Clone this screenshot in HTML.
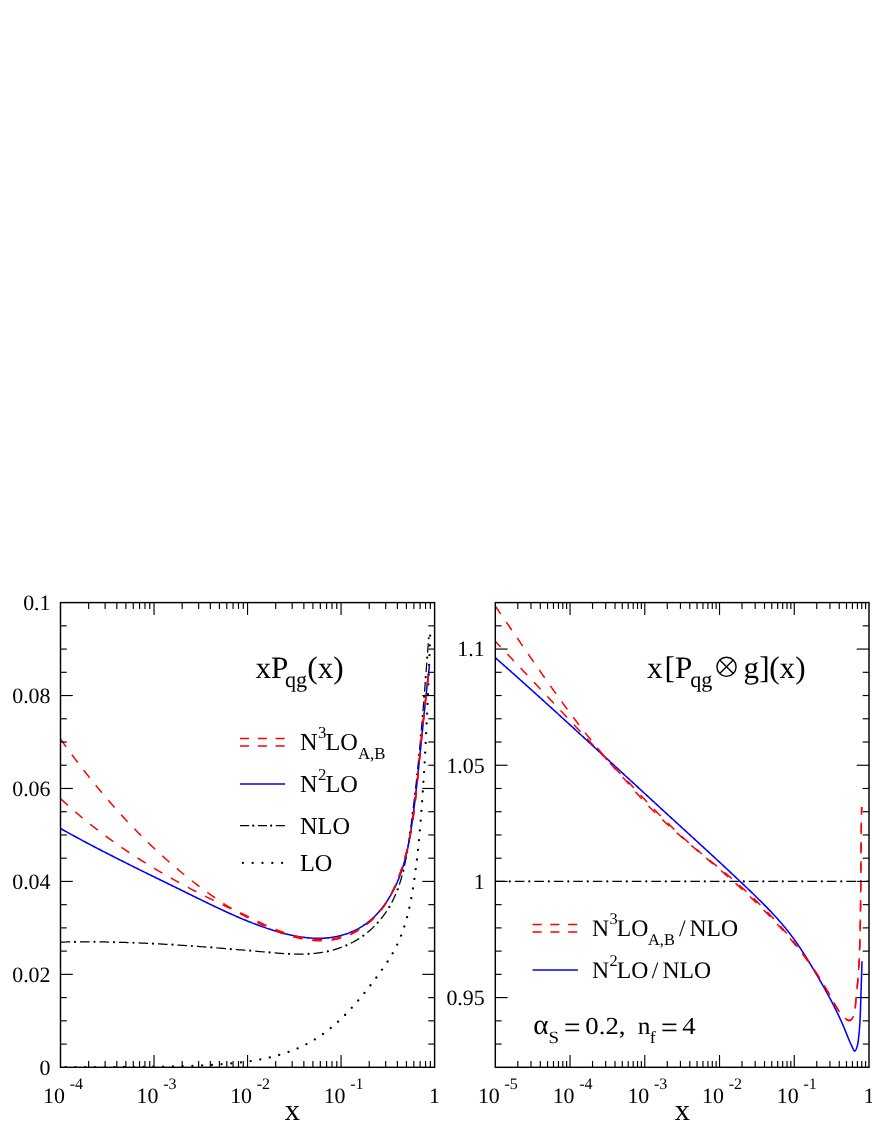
<!DOCTYPE html>
<html><head><meta charset="utf-8"><title>Splitting functions</title>
<style>html,body{margin:0;padding:0;background:#fff;}svg{display:block;}svg{will-change:transform;transform:translateZ(0);}text{font-family:"Liberation Serif",serif;fill:#000;-webkit-font-smoothing:antialiased;text-rendering:geometricPrecision;}</style></head><body>
<svg width="872" height="1128" viewBox="0 0 872 1128">
<rect width="872" height="1128" fill="#fff"/>
<clipPath id="cl"><rect x="60.5" y="602.6" width="374.1" height="464.7"/></clipPath>
<clipPath id="cr"><rect x="495.3" y="602.6" width="373.7" height="464.7"/></clipPath>
<g clip-path="url(#cl)">
<path d="M60.5 1067.24 L61.12 1067.24 L61.73 1067.24 L62.35 1067.24 L62.97 1067.24 L63.59 1067.24 L64.2 1067.24 L64.82 1067.23 L65.44 1067.23 L66.06 1067.23 L66.67 1067.23 L67.29 1067.23 L67.91 1067.23 L68.53 1067.23 L69.14 1067.23 L69.76 1067.23 L70.38 1067.22 L71 1067.22 L71.61 1067.22 L72.23 1067.22 L72.85 1067.22 L73.47 1067.22 L74.08 1067.22 L74.7 1067.22 L75.32 1067.21 L75.93 1067.21 L76.55 1067.21 L77.17 1067.21 L77.79 1067.21 L78.4 1067.21 L79.02 1067.21 L79.64 1067.21 L80.26 1067.2 L80.87 1067.2 L81.49 1067.2 L82.11 1067.2 L82.73 1067.2 L83.34 1067.2 L83.96 1067.19 L84.58 1067.19 L85.2 1067.19 L85.81 1067.19 L86.43 1067.19 L87.05 1067.19 L87.67 1067.18 L88.28 1067.18 L88.9 1067.18 L89.52 1067.18 L90.14 1067.18 L90.75 1067.18 L91.37 1067.17 L91.99 1067.17 L92.6 1067.17 L93.22 1067.17 L93.84 1067.17 L94.46 1067.16 L95.07 1067.16 L95.69 1067.16 L96.31 1067.16 L96.93 1067.16 L97.54 1067.15 L98.16 1067.15 L98.78 1067.15 L99.4 1067.15 L100.01 1067.14 L100.63 1067.14 L101.25 1067.14 L101.87 1067.14 L102.48 1067.13 L103.1 1067.13 L103.72 1067.13 L104.34 1067.13 L104.95 1067.12 L105.57 1067.12 L106.19 1067.12 L106.8 1067.12 L107.42 1067.11 L108.04 1067.11 L108.66 1067.11 L109.27 1067.1 L109.89 1067.1 L110.51 1067.1 L111.13 1067.09 L111.74 1067.09 L112.36 1067.09 L112.98 1067.08 L113.6 1067.08 L114.21 1067.08 L114.83 1067.07 L115.45 1067.07 L116.07 1067.07 L116.68 1067.06 L117.3 1067.06 L117.92 1067.06 L118.54 1067.05 L119.15 1067.05 L119.77 1067.05 L120.39 1067.04 L121 1067.04 L121.62 1067.03 L122.24 1067.03 L122.86 1067.03 L123.47 1067.02 L124.09 1067.02 L124.71 1067.01 L125.33 1067.01 L125.94 1067 L126.56 1067 L127.18 1066.99 L127.8 1066.99 L128.41 1066.99 L129.03 1066.98 L129.65 1066.98 L130.27 1066.97 L130.88 1066.97 L131.5 1066.96 L132.12 1066.96 L132.74 1066.95 L133.35 1066.94 L133.97 1066.94 L134.59 1066.93 L135.2 1066.93 L135.82 1066.92 L136.44 1066.92 L137.06 1066.91 L137.67 1066.9 L138.29 1066.9 L138.91 1066.89 L139.53 1066.89 L140.14 1066.88 L140.76 1066.87 L141.38 1066.87 L142 1066.86 L142.61 1066.85 L143.23 1066.85 L143.85 1066.84 L144.47 1066.83 L145.08 1066.83 L145.7 1066.82 L146.32 1066.81 L146.94 1066.8 L147.55 1066.8 L148.17 1066.79 L148.79 1066.78 L149.41 1066.77 L150.02 1066.76 L150.64 1066.76 L151.26 1066.75 L151.87 1066.74 L152.49 1066.73 L153.11 1066.72 L153.73 1066.71 L154.34 1066.7 L154.96 1066.7 L155.58 1066.69 L156.2 1066.68 L156.81 1066.67 L157.43 1066.66 L158.05 1066.65 L158.67 1066.64 L159.28 1066.63 L159.9 1066.62 L160.52 1066.61 L161.14 1066.6 L161.75 1066.59 L162.37 1066.58 L162.99 1066.56 L163.61 1066.55 L164.22 1066.54 L164.84 1066.53 L165.46 1066.52 L166.07 1066.51 L166.69 1066.49 L167.31 1066.48 L167.93 1066.47 L168.54 1066.46 L169.16 1066.44 L169.78 1066.43 L170.4 1066.42 L171.01 1066.4 L171.63 1066.39 L172.25 1066.38 L172.87 1066.36 L173.48 1066.35 L174.1 1066.33 L174.72 1066.32 L175.34 1066.3 L175.95 1066.29 L176.57 1066.27 L177.19 1066.26 L177.81 1066.24 L178.42 1066.23 L179.04 1066.21 L179.66 1066.19 L180.27 1066.18 L180.89 1066.16 L181.51 1066.14 L182.13 1066.12 L182.74 1066.1 L183.36 1066.09 L183.98 1066.07 L184.6 1066.05 L185.21 1066.03 L185.83 1066.01 L186.45 1065.99 L187.07 1065.97 L187.68 1065.95 L188.3 1065.93 L188.92 1065.91 L189.54 1065.89 L190.15 1065.87 L190.77 1065.85 L191.39 1065.82 L192.01 1065.8 L192.62 1065.78 L193.24 1065.75 L193.86 1065.73 L194.48 1065.71 L195.09 1065.68 L195.71 1065.66 L196.33 1065.63 L196.94 1065.61 L197.56 1065.58 L198.18 1065.56 L198.8 1065.53 L199.41 1065.5 L200.03 1065.47 L200.65 1065.45 L201.27 1065.42 L201.88 1065.39 L202.5 1065.36 L203.12 1065.33 L203.74 1065.3 L204.35 1065.27 L204.97 1065.24 L205.59 1065.21 L206.21 1065.18 L206.82 1065.15 L207.44 1065.11 L208.06 1065.08 L208.68 1065.05 L209.29 1065.01 L209.91 1064.98 L210.53 1064.94 L211.14 1064.91 L211.76 1064.87 L212.38 1064.83 L213 1064.79 L213.61 1064.76 L214.23 1064.72 L214.85 1064.68 L215.47 1064.64 L216.08 1064.6 L216.7 1064.56 L217.32 1064.52 L217.94 1064.47 L218.55 1064.43 L219.17 1064.39 L219.79 1064.34 L220.41 1064.3 L221.02 1064.25 L221.64 1064.21 L222.26 1064.16 L222.88 1064.11 L223.49 1064.06 L224.11 1064.01 L224.73 1063.97 L225.34 1063.91 L225.96 1063.86 L226.58 1063.81 L227.2 1063.76 L227.81 1063.7 L228.43 1063.65 L229.05 1063.6 L229.67 1063.54 L230.28 1063.48 L230.9 1063.42 L231.52 1063.37 L232.14 1063.31 L232.75 1063.25 L233.37 1063.19 L233.99 1063.12 L234.61 1063.06 L235.22 1063 L235.84 1062.93 L236.46 1062.87 L237.08 1062.8 L237.69 1062.73 L238.31 1062.66 L238.93 1062.59 L239.54 1062.52 L240.16 1062.45 L240.78 1062.38 L241.4 1062.3 L242.01 1062.23 L242.63 1062.15 L243.25 1062.07 L243.87 1061.99 L244.48 1061.91 L245.1 1061.83 L245.72 1061.75 L246.34 1061.67 L246.95 1061.58 L247.57 1061.5 L248.19 1061.41 L248.81 1061.32 L249.42 1061.23 L250.04 1061.14 L250.66 1061.05 L251.28 1060.96 L251.89 1060.86 L252.51 1060.76 L253.13 1060.67 L253.75 1060.57 L254.36 1060.47 L254.98 1060.36 L255.6 1060.26 L256.21 1060.16 L256.83 1060.05 L257.45 1059.94 L258.07 1059.83 L258.68 1059.72 L259.3 1059.61 L259.92 1059.49 L260.54 1059.38 L261.15 1059.26 L261.77 1059.14 L262.39 1059.02 L263.01 1058.89 L263.62 1058.77 L264.24 1058.64 L264.86 1058.51 L265.48 1058.38 L266.09 1058.25 L266.71 1058.12 L267.33 1057.98 L267.95 1057.84 L268.56 1057.7 L269.18 1057.56 L269.8 1057.42 L270.41 1057.27 L271.03 1057.12 L271.65 1056.97 L272.27 1056.82 L272.88 1056.66 L273.5 1056.51 L274.12 1056.35 L274.74 1056.19 L275.35 1056.02 L275.97 1055.86 L276.59 1055.69 L277.21 1055.52 L277.82 1055.35 L278.44 1055.17 L279.06 1054.99 L279.68 1054.81 L280.29 1054.63 L280.91 1054.45 L281.53 1054.26 L282.15 1054.07 L282.76 1053.87 L283.38 1053.68 L284 1053.48 L284.61 1053.28 L285.23 1053.08 L285.85 1052.87 L286.47 1052.66 L287.08 1052.45 L287.7 1052.23 L288.32 1052.01 L288.94 1051.79 L289.55 1051.57 L290.17 1051.34 L290.79 1051.11 L291.41 1050.88 L292.02 1050.64 L292.64 1050.4 L293.26 1050.16 L293.88 1049.91 L294.49 1049.66 L295.11 1049.41 L295.73 1049.15 L296.35 1048.89 L296.96 1048.63 L297.58 1048.36 L298.2 1048.1 L298.82 1047.82 L299.43 1047.54 L300.05 1047.26 L300.67 1046.98 L301.28 1046.69 L301.9 1046.4 L302.52 1046.1 L303.14 1045.81 L303.75 1045.5 L304.37 1045.2 L304.99 1044.88 L305.61 1044.57 L306.22 1044.25 L306.84 1043.93 L307.46 1043.6 L308.08 1043.27 L308.69 1042.94 L309.31 1042.6 L309.93 1042.25 L310.55 1041.91 L311.16 1041.55 L311.78 1041.2 L312.4 1040.84 L313.02 1040.47 L313.63 1040.1 L314.25 1039.73 L314.87 1039.35 L315.48 1038.97 L316.1 1038.58 L316.72 1038.19 L317.34 1037.79 L317.95 1037.39 L318.57 1036.98 L319.19 1036.57 L319.81 1036.16 L320.42 1035.74 L321.04 1035.31 L321.66 1034.88 L322.28 1034.45 L322.89 1034.01 L323.51 1033.57 L324.13 1033.12 L324.75 1032.66 L325.36 1032.2 L325.98 1031.74 L326.6 1031.27 L327.22 1030.79 L327.83 1030.31 L328.45 1029.83 L329.07 1029.34 L329.68 1028.85 L330.3 1028.35 L330.92 1027.84 L331.54 1027.33 L332.15 1026.82 L332.77 1026.29 L333.39 1025.77 L334.01 1025.24 L334.62 1024.7 L335.24 1024.16 L335.86 1023.61 L336.48 1023.06 L337.09 1022.5 L337.71 1021.94 L338.33 1021.37 L338.95 1020.8 L339.56 1020.22 L340.18 1019.64 L340.8 1019.05 L341.42 1018.46 L342.03 1017.86 L342.65 1017.25 L343.27 1016.64 L343.89 1016.03 L344.5 1015.41 L345.12 1014.78 L345.74 1014.16 L346.35 1013.52 L346.97 1012.88 L347.59 1012.24 L348.21 1011.59 L348.82 1010.93 L349.44 1010.27 L350.06 1009.61 L350.68 1008.94 L351.29 1008.26 L351.91 1007.59 L352.53 1006.9 L353.15 1006.21 L353.76 1005.52 L354.38 1004.82 L355 1004.12 L355.62 1003.42 L356.23 1002.71 L356.85 1001.99 L357.47 1001.27 L358.09 1000.55 L358.7 999.82 L359.32 999.09 L359.94 998.35 L360.55 997.61 L361.17 996.87 L361.79 996.12 L362.41 995.37 L363.02 994.62 L363.64 993.86 L364.26 993.1 L364.88 992.33 L365.49 991.56 L366.11 990.79 L366.73 990.01 L367.35 989.23 L367.96 988.45 L368.58 987.66 L369.2 986.87 L369.82 986.08 L370.43 985.28 L371.05 984.49 L371.67 983.68 L372.29 982.88 L372.9 982.07 L373.52 981.25 L374.14 980.44 L374.75 979.62 L375.37 978.8 L375.99 977.97 L376.61 977.14 L377.22 976.31 L377.84 975.47 L378.46 974.63 L379.08 973.78 L379.69 972.93 L380.31 972.07 L380.93 971.21 L381.55 970.35 L382.16 969.47 L382.78 968.6 L383.4 967.71 L384.02 966.82 L384.63 965.92 L385.25 965.01 L385.87 964.1 L386.49 963.17 L387.1 962.24 L387.72 961.29 L388.34 960.34 L388.95 959.37 L389.57 958.39 L390.19 957.39 L390.81 956.38 L391.42 955.35 L392.04 954.3 L392.66 953.23 L393.28 952.14 L393.89 951.03 L394.51 949.9 L395.13 948.74 L395.75 947.55 L396.36 946.32 L396.98 945.07 L397.6 943.78 L398.22 942.45 L398.83 941.08 L399.45 939.67 L400.07 938.21 L400.69 936.7 L401.3 935.14 L401.92 933.51 L402.54 931.83 L403.16 930.07 L403.77 928.25 L404.39 926.35 L405.01 924.36 L405.62 922.29 L406.24 920.12 L406.86 917.86 L407.48 915.48 L408.09 913 L408.71 910.39 L409.33 907.65 L409.95 904.77 L410.56 901.74 L411.18 898.56 L411.8 895.2 L412.42 891.67 L413.03 887.95 L413.65 884.03 L414.27 879.89 L414.89 875.52 L415.5 870.9 L416.12 866.03 L416.74 860.88 L417.36 855.45 L417.97 849.7 L418.59 843.62 L419.21 837.19 L419.82 830.39 L420.44 823.2 L421.06 815.59 L421.68 807.54 L422.29 799.03 L422.91 790.01 L423.53 780.47 L424.15 770.38 L424.76 759.69 L425.38 748.38 L426 736.41 L426.62 723.75 L427.23 710.34 L427.85 696.15 L428.47 681.14 L429.09 665.25 L429.7 648.44 L430.32 630.66" fill="none" stroke="#000" stroke-width="2.3" stroke-linecap="round" stroke-linejoin="round" stroke-dasharray="0.01 9.74" stroke-dashoffset="4.6"/>
<path d="M60.5 942.1 L61.76 942.07 L63.02 942.05 L64.28 942.02 L65.55 942 L66.81 941.97 L68.06 941.95 L69.32 941.93 L70.58 941.92 L71.84 941.9 L73.1 941.89 L74.35 941.87 L75.61 941.86 L76.87 941.85 L78.12 941.84 L79.37 941.83 L80.63 941.83 L81.88 941.82 L83.14 941.82 L84.39 941.82 L85.64 941.82 L86.89 941.82 L88.14 941.82 L89.39 941.82 L90.64 941.83 L91.89 941.83 L93.14 941.84 L94.39 941.85 L95.64 941.86 L96.89 941.87 L98.13 941.88 L99.38 941.9 L100.63 941.91 L101.87 941.93 L103.12 941.95 L104.37 941.96 L105.61 941.98 L106.86 942.01 L108.1 942.03 L109.34 942.05 L110.59 942.08 L111.83 942.1 L113.07 942.13 L114.32 942.16 L115.56 942.19 L116.8 942.22 L118.04 942.25 L119.29 942.29 L120.53 942.32 L121.77 942.36 L123.01 942.4 L124.25 942.43 L125.49 942.47 L126.73 942.51 L127.97 942.55 L129.21 942.6 L130.45 942.64 L131.69 942.68 L132.92 942.73 L134.16 942.78 L135.4 942.83 L136.64 942.87 L137.88 942.92 L139.11 942.97 L140.35 943.03 L141.59 943.08 L142.83 943.13 L144.06 943.19 L145.3 943.24 L146.54 943.3 L147.77 943.36 L149.01 943.42 L150.25 943.48 L151.48 943.54 L152.72 943.6 L153.95 943.66 L155.19 943.73 L156.43 943.79 L157.66 943.86 L158.9 943.92 L160.13 943.99 L161.37 944.06 L162.6 944.13 L163.84 944.2 L165.08 944.27 L166.31 944.34 L167.55 944.41 L168.78 944.48 L170.02 944.56 L171.25 944.63 L172.49 944.71 L173.72 944.79 L174.96 944.86 L176.19 944.94 L177.43 945.02 L178.66 945.1 L179.9 945.18 L181.13 945.26 L182.37 945.34 L183.61 945.43 L184.84 945.51 L186.08 945.59 L187.31 945.68 L188.55 945.76 L189.79 945.85 L191.02 945.94 L192.26 946.02 L193.49 946.11 L194.73 946.2 L195.97 946.29 L197.2 946.38 L198.44 946.47 L199.68 946.56 L200.91 946.65 L202.15 946.75 L203.39 946.84 L204.63 946.93 L205.87 947.03 L207.1 947.12 L208.34 947.22 L209.58 947.31 L210.82 947.41 L212.06 947.51 L213.3 947.61 L214.54 947.7 L215.78 947.8 L217.02 947.9 L218.26 948 L219.5 948.1 L220.74 948.2 L221.98 948.3 L223.22 948.41 L224.46 948.51 L225.7 948.61 L226.95 948.71 L228.19 948.82 L229.43 948.92 L230.68 949.03 L231.92 949.13 L233.16 949.24 L234.41 949.34 L235.65 949.45 L236.9 949.55 L238.14 949.66 L239.39 949.77 L240.63 949.88 L241.88 949.98 L243.13 950.09 L244.37 950.2 L245.62 950.31 L246.87 950.42 L248.12 950.53 L249.37 950.64 L250.62 950.75 L251.87 950.86 L253.12 950.97 L254.37 951.08 L255.62 951.19 L256.87 951.3 L258.12 951.41 L259.38 951.53 L260.63 951.64 L261.88 951.75 L263.14 951.86 L264.39 951.98 L265.65 952.09 L266.9 952.2 L268.16 952.31 L269.42 952.43 L270.67 952.54 L271.93 952.65 L273.19 952.75 L274.44 952.86 L275.7 952.96 L276.96 953.06 L278.22 953.16 L279.47 953.26 L280.73 953.35 L281.99 953.44 L283.24 953.52 L284.5 953.6 L285.76 953.67 L287.01 953.74 L288.27 953.81 L289.52 953.86 L290.78 953.92 L292.03 953.96 L293.28 954 L294.54 954.04 L295.79 954.06 L297.04 954.08 L298.29 954.1 L299.54 954.1 L300.78 954.09 L302.03 954.08 L303.28 954.06 L304.52 954.03 L305.76 953.99 L307.01 953.94 L308.25 953.88 L309.49 953.8 L310.72 953.72 L311.96 953.63 L313.19 953.53 L314.43 953.41 L315.66 953.28 L316.89 953.14 L318.12 952.99 L319.34 952.83 L320.57 952.65 L321.79 952.46 L323.01 952.25 L324.23 952.03 L325.45 951.8 L326.66 951.56 L327.87 951.3 L329.08 951.02 L330.28 950.73 L331.48 950.43 L332.68 950.11 L333.87 949.78 L335.06 949.44 L336.25 949.08 L337.43 948.71 L338.6 948.32 L339.77 947.92 L340.94 947.5 L342.09 947.07 L343.25 946.63 L344.39 946.17 L345.53 945.69 L346.67 945.2 L347.79 944.7 L348.91 944.18 L350.03 943.65 L351.13 943.1 L352.23 942.54 L353.32 941.97 L354.4 941.37 L355.47 940.77 L356.54 940.15 L357.59 939.51 L358.64 938.86 L359.67 938.19 L360.7 937.51 L361.72 936.82 L362.73 936.11 L363.72 935.38 L364.71 934.64 L365.69 933.89 L366.66 933.13 L367.62 932.35 L368.56 931.56 L369.5 930.75 L370.43 929.93 L371.34 929.1 L372.24 928.26 L373.14 927.41 L374.02 926.54 L374.89 925.66 L375.75 924.78 L376.6 923.88 L377.44 922.97 L378.26 922.05 L379.08 921.11 L379.88 920.17 L380.67 919.22 L381.44 918.26 L382.21 917.29 L382.96 916.31 L383.7 915.32 L384.43 914.32 L385.15 913.31 L385.85 912.3 L386.54 911.27 L387.22 910.24 L387.88 909.2 L388.53 908.15 L389.17 907.1 L389.79 906.04 L390.4 904.97 L391 903.89 L391.58 902.81 L392.15 901.72 L392.71 900.63 L393.25 899.53 L393.79 898.42 L394.31 897.31 L394.82 896.19 L395.31 895.06 L395.8 893.93 L396.28 892.8 L396.74 891.66 L397.19 890.51 L397.63 889.36 L398.06 888.2 L398.48 887.04 L398.9 885.87 L399.3 884.7 L399.69 883.52 L400.07 882.34 L400.44 881.16 L400.81 879.97 L401.16 878.78 L401.51 877.58 L401.85 876.38 L402.18 875.18 L402.5 873.97 L402.81 872.76 L403.12 871.55 L403.42 870.33 L403.71 869.11 L404 867.89 L404.28 866.66 L404.55 865.43 L404.81 864.2 L405.07 862.97 L405.33 861.73 L405.57 860.5 L405.82 859.26 L406.05 858.02 L406.29 856.77 L406.51 855.53 L406.74 854.28 L406.96 853.03 L407.17 851.79 L407.38 850.54 L407.59 849.29 L407.79 848.03 L407.99 846.78 L408.19 845.53 L408.38 844.27 L408.57 843.02 L408.76 841.77 L408.94 840.51 L409.13 839.26 L409.31 838 L409.49 836.75 L409.67 835.5 L409.85 834.24 L410.02 832.99 L410.2 831.74 L410.37 830.49 L410.54 829.24 L410.71 827.99 L410.88 826.74 L411.05 825.49 L411.22 824.24 L411.39 822.99 L411.55 821.75 L411.72 820.5 L411.88 819.25 L412.04 818.01 L412.2 816.76 L412.37 815.52 L412.52 814.27 L412.68 813.03 L412.84 811.79 L413 810.54 L413.15 809.3 L413.3 808.06 L413.46 806.82 L413.61 805.57 L413.76 804.33 L413.91 803.09 L414.06 801.85 L414.21 800.61 L414.35 799.37 L414.5 798.13 L414.64 796.89 L414.79 795.66 L414.93 794.42 L415.07 793.18 L415.22 791.94 L415.36 790.7 L415.5 789.47 L415.63 788.23 L415.77 786.99 L415.91 785.76 L416.05 784.52 L416.18 783.29 L416.32 782.05 L416.45 780.82 L416.58 779.58 L416.71 778.35 L416.85 777.11 L416.98 775.88 L417.11 774.65 L417.23 773.41 L417.36 772.18 L417.49 770.94 L417.62 769.71 L417.74 768.48 L417.87 767.25 L417.99 766.01 L418.12 764.78 L418.24 763.55 L418.36 762.32 L418.48 761.09 L418.6 759.85 L418.72 758.62 L418.84 757.39 L418.96 756.16 L419.08 754.93 L419.2 753.7 L419.32 752.46 L419.43 751.23 L419.55 750 L419.67 748.77 L419.78 747.54 L419.89 746.31 L420.01 745.08 L420.12 743.85 L420.23 742.62 L420.35 741.39 L420.46 740.15 L420.57 738.92 L420.68 737.69 L420.79 736.46 L420.9 735.23 L421.01 734 L421.12 732.77 L421.23 731.54 L421.33 730.31 L421.44 729.08 L421.55 727.84 L421.65 726.61 L421.76 725.38 L421.87 724.15 L421.97 722.92 L422.08 721.69 L422.18 720.45 L422.28 719.22 L422.39 717.99 L422.49 716.76 L422.6 715.53 L422.7 714.29 L422.8 713.06 L422.9 711.83 L423 710.6 L423.11 709.36 L423.21 708.13 L423.31 706.89 L423.41 705.66 L423.51 704.43 L423.61 703.19 L423.71 701.96 L423.81 700.72 L423.91 699.49 L424.01 698.25 L424.11 697.02 L424.21 695.78 L424.3 694.55 L424.4 693.31 L424.5 692.07 L424.6 690.84 L424.7 689.6 L424.8 688.36 L424.89 687.12 L424.99 685.88 L425.09 684.65 L425.19 683.41 L425.28 682.17 L425.38 680.93 L425.48 679.69 L425.57 678.45 L425.67 677.21 L425.77 675.97 L425.87 674.73 L425.96 673.48 L426.06 672.24 L426.16 671 L426.25 669.75 L426.35 668.51 L426.45 667.27 L426.54 666.02 L426.64 664.78 L426.74 663.53 L426.83 662.29 L426.93 661.04 L427.03 659.79 L427.13 658.55 L427.22 657.3 L427.32 656.05 L427.42 654.8 L427.52 653.55 L427.61 652.3 L427.71 651.05 L427.81 649.8 L427.91 648.55 L428.01 647.3 L428.1 646.04 L428.2 644.79 L428.3 643.54 L428.4 642.28 L428.5 641.03 L428.6 639.77 L428.7 638.51 L428.8 637.26 L428.9 636" fill="none" stroke="#000" stroke-width="1.25" stroke-dasharray="9.6 9.9"/>
<path d="M60.5 942.1 L61.76 942.07 L63.02 942.05 L64.28 942.02 L65.55 942 L66.81 941.97 L68.06 941.95 L69.32 941.93 L70.58 941.92 L71.84 941.9 L73.1 941.89 L74.35 941.87 L75.61 941.86 L76.87 941.85 L78.12 941.84 L79.37 941.83 L80.63 941.83 L81.88 941.82 L83.14 941.82 L84.39 941.82 L85.64 941.82 L86.89 941.82 L88.14 941.82 L89.39 941.82 L90.64 941.83 L91.89 941.83 L93.14 941.84 L94.39 941.85 L95.64 941.86 L96.89 941.87 L98.13 941.88 L99.38 941.9 L100.63 941.91 L101.87 941.93 L103.12 941.95 L104.37 941.96 L105.61 941.98 L106.86 942.01 L108.1 942.03 L109.34 942.05 L110.59 942.08 L111.83 942.1 L113.07 942.13 L114.32 942.16 L115.56 942.19 L116.8 942.22 L118.04 942.25 L119.29 942.29 L120.53 942.32 L121.77 942.36 L123.01 942.4 L124.25 942.43 L125.49 942.47 L126.73 942.51 L127.97 942.55 L129.21 942.6 L130.45 942.64 L131.69 942.68 L132.92 942.73 L134.16 942.78 L135.4 942.83 L136.64 942.87 L137.88 942.92 L139.11 942.97 L140.35 943.03 L141.59 943.08 L142.83 943.13 L144.06 943.19 L145.3 943.24 L146.54 943.3 L147.77 943.36 L149.01 943.42 L150.25 943.48 L151.48 943.54 L152.72 943.6 L153.95 943.66 L155.19 943.73 L156.43 943.79 L157.66 943.86 L158.9 943.92 L160.13 943.99 L161.37 944.06 L162.6 944.13 L163.84 944.2 L165.08 944.27 L166.31 944.34 L167.55 944.41 L168.78 944.48 L170.02 944.56 L171.25 944.63 L172.49 944.71 L173.72 944.79 L174.96 944.86 L176.19 944.94 L177.43 945.02 L178.66 945.1 L179.9 945.18 L181.13 945.26 L182.37 945.34 L183.61 945.43 L184.84 945.51 L186.08 945.59 L187.31 945.68 L188.55 945.76 L189.79 945.85 L191.02 945.94 L192.26 946.02 L193.49 946.11 L194.73 946.2 L195.97 946.29 L197.2 946.38 L198.44 946.47 L199.68 946.56 L200.91 946.65 L202.15 946.75 L203.39 946.84 L204.63 946.93 L205.87 947.03 L207.1 947.12 L208.34 947.22 L209.58 947.31 L210.82 947.41 L212.06 947.51 L213.3 947.61 L214.54 947.7 L215.78 947.8 L217.02 947.9 L218.26 948 L219.5 948.1 L220.74 948.2 L221.98 948.3 L223.22 948.41 L224.46 948.51 L225.7 948.61 L226.95 948.71 L228.19 948.82 L229.43 948.92 L230.68 949.03 L231.92 949.13 L233.16 949.24 L234.41 949.34 L235.65 949.45 L236.9 949.55 L238.14 949.66 L239.39 949.77 L240.63 949.88 L241.88 949.98 L243.13 950.09 L244.37 950.2 L245.62 950.31 L246.87 950.42 L248.12 950.53 L249.37 950.64 L250.62 950.75 L251.87 950.86 L253.12 950.97 L254.37 951.08 L255.62 951.19 L256.87 951.3 L258.12 951.41 L259.38 951.53 L260.63 951.64 L261.88 951.75 L263.14 951.86 L264.39 951.98 L265.65 952.09 L266.9 952.2 L268.16 952.31 L269.42 952.43 L270.67 952.54 L271.93 952.65 L273.19 952.75 L274.44 952.86 L275.7 952.96 L276.96 953.06 L278.22 953.16 L279.47 953.26 L280.73 953.35 L281.99 953.44 L283.24 953.52 L284.5 953.6 L285.76 953.67 L287.01 953.74 L288.27 953.81 L289.52 953.86 L290.78 953.92 L292.03 953.96 L293.28 954 L294.54 954.04 L295.79 954.06 L297.04 954.08 L298.29 954.1 L299.54 954.1 L300.78 954.09 L302.03 954.08 L303.28 954.06 L304.52 954.03 L305.76 953.99 L307.01 953.94 L308.25 953.88 L309.49 953.8 L310.72 953.72 L311.96 953.63 L313.19 953.53 L314.43 953.41 L315.66 953.28 L316.89 953.14 L318.12 952.99 L319.34 952.83 L320.57 952.65 L321.79 952.46 L323.01 952.25 L324.23 952.03 L325.45 951.8 L326.66 951.56 L327.87 951.3 L329.08 951.02 L330.28 950.73 L331.48 950.43 L332.68 950.11 L333.87 949.78 L335.06 949.44 L336.25 949.08 L337.43 948.71 L338.6 948.32 L339.77 947.92 L340.94 947.5 L342.09 947.07 L343.25 946.63 L344.39 946.17 L345.53 945.69 L346.67 945.2 L347.79 944.7 L348.91 944.18 L350.03 943.65 L351.13 943.1 L352.23 942.54 L353.32 941.97 L354.4 941.37 L355.47 940.77 L356.54 940.15 L357.59 939.51 L358.64 938.86 L359.67 938.19 L360.7 937.51 L361.72 936.82 L362.73 936.11 L363.72 935.38 L364.71 934.64 L365.69 933.89 L366.66 933.13 L367.62 932.35 L368.56 931.56 L369.5 930.75 L370.43 929.93 L371.34 929.1 L372.24 928.26 L373.14 927.41 L374.02 926.54 L374.89 925.66 L375.75 924.78 L376.6 923.88 L377.44 922.97 L378.26 922.05 L379.08 921.11 L379.88 920.17 L380.67 919.22 L381.44 918.26 L382.21 917.29 L382.96 916.31 L383.7 915.32 L384.43 914.32 L385.15 913.31 L385.85 912.3 L386.54 911.27 L387.22 910.24 L387.88 909.2 L388.53 908.15 L389.17 907.1 L389.79 906.04 L390.4 904.97 L391 903.89 L391.58 902.81 L392.15 901.72 L392.71 900.63 L393.25 899.53 L393.79 898.42 L394.31 897.31 L394.82 896.19 L395.31 895.06 L395.8 893.93 L396.28 892.8 L396.74 891.66 L397.19 890.51 L397.63 889.36 L398.06 888.2 L398.48 887.04 L398.9 885.87 L399.3 884.7 L399.69 883.52 L400.07 882.34 L400.44 881.16 L400.81 879.97 L401.16 878.78 L401.51 877.58 L401.85 876.38 L402.18 875.18 L402.5 873.97 L402.81 872.76 L403.12 871.55 L403.42 870.33 L403.71 869.11 L404 867.89 L404.28 866.66 L404.55 865.43 L404.81 864.2 L405.07 862.97 L405.33 861.73 L405.57 860.5 L405.82 859.26 L406.05 858.02 L406.29 856.77 L406.51 855.53 L406.74 854.28 L406.96 853.03 L407.17 851.79 L407.38 850.54 L407.59 849.29 L407.79 848.03 L407.99 846.78 L408.19 845.53 L408.38 844.27 L408.57 843.02 L408.76 841.77 L408.94 840.51 L409.13 839.26 L409.31 838 L409.49 836.75 L409.67 835.5 L409.85 834.24 L410.02 832.99 L410.2 831.74 L410.37 830.49 L410.54 829.24 L410.71 827.99 L410.88 826.74 L411.05 825.49 L411.22 824.24 L411.39 822.99 L411.55 821.75 L411.72 820.5 L411.88 819.25 L412.04 818.01 L412.2 816.76 L412.37 815.52 L412.52 814.27 L412.68 813.03 L412.84 811.79 L413 810.54 L413.15 809.3 L413.3 808.06 L413.46 806.82 L413.61 805.57 L413.76 804.33 L413.91 803.09 L414.06 801.85 L414.21 800.61 L414.35 799.37 L414.5 798.13 L414.64 796.89 L414.79 795.66 L414.93 794.42 L415.07 793.18 L415.22 791.94 L415.36 790.7 L415.5 789.47 L415.63 788.23 L415.77 786.99 L415.91 785.76 L416.05 784.52 L416.18 783.29 L416.32 782.05 L416.45 780.82 L416.58 779.58 L416.71 778.35 L416.85 777.11 L416.98 775.88 L417.11 774.65 L417.23 773.41 L417.36 772.18 L417.49 770.94 L417.62 769.71 L417.74 768.48 L417.87 767.25 L417.99 766.01 L418.12 764.78 L418.24 763.55 L418.36 762.32 L418.48 761.09 L418.6 759.85 L418.72 758.62 L418.84 757.39 L418.96 756.16 L419.08 754.93 L419.2 753.7 L419.32 752.46 L419.43 751.23 L419.55 750 L419.67 748.77 L419.78 747.54 L419.89 746.31 L420.01 745.08 L420.12 743.85 L420.23 742.62 L420.35 741.39 L420.46 740.15 L420.57 738.92 L420.68 737.69 L420.79 736.46 L420.9 735.23 L421.01 734 L421.12 732.77 L421.23 731.54 L421.33 730.31 L421.44 729.08 L421.55 727.84 L421.65 726.61 L421.76 725.38 L421.87 724.15 L421.97 722.92 L422.08 721.69 L422.18 720.45 L422.28 719.22 L422.39 717.99 L422.49 716.76 L422.6 715.53 L422.7 714.29 L422.8 713.06 L422.9 711.83 L423 710.6 L423.11 709.36 L423.21 708.13 L423.31 706.89 L423.41 705.66 L423.51 704.43 L423.61 703.19 L423.71 701.96 L423.81 700.72 L423.91 699.49 L424.01 698.25 L424.11 697.02 L424.21 695.78 L424.3 694.55 L424.4 693.31 L424.5 692.07 L424.6 690.84 L424.7 689.6 L424.8 688.36 L424.89 687.12 L424.99 685.88 L425.09 684.65 L425.19 683.41 L425.28 682.17 L425.38 680.93 L425.48 679.69 L425.57 678.45 L425.67 677.21 L425.77 675.97 L425.87 674.73 L425.96 673.48 L426.06 672.24 L426.16 671 L426.25 669.75 L426.35 668.51 L426.45 667.27 L426.54 666.02 L426.64 664.78 L426.74 663.53 L426.83 662.29 L426.93 661.04 L427.03 659.79 L427.13 658.55 L427.22 657.3 L427.32 656.05 L427.42 654.8 L427.52 653.55 L427.61 652.3 L427.71 651.05 L427.81 649.8 L427.91 648.55 L428.01 647.3 L428.1 646.04 L428.2 644.79 L428.3 643.54 L428.4 642.28 L428.5 641.03 L428.6 639.77 L428.7 638.51 L428.8 637.26 L428.9 636" fill="none" stroke="#000" stroke-width="2.2" stroke-linecap="round" stroke-dasharray="0.01 19.49" stroke-dashoffset="5"/>
<path d="M60.5 828.5 L61.81 829.24 L63.13 829.97 L64.45 830.7 L65.76 831.43 L67.08 832.17 L68.4 832.89 L69.73 833.62 L71.05 834.35 L72.38 835.07 L73.7 835.8 L75.03 836.52 L76.36 837.24 L77.69 837.96 L79.03 838.67 L80.36 839.39 L81.7 840.11 L83.03 840.82 L84.37 841.53 L85.71 842.25 L87.05 842.96 L88.39 843.67 L89.73 844.37 L91.07 845.08 L92.42 845.79 L93.76 846.49 L95.11 847.2 L96.46 847.9 L97.8 848.6 L99.15 849.3 L100.5 850 L101.85 850.7 L103.21 851.4 L104.56 852.09 L105.91 852.79 L107.27 853.48 L108.62 854.18 L109.98 854.87 L111.33 855.56 L112.69 856.25 L114.05 856.94 L115.41 857.63 L116.76 858.32 L118.12 859.01 L119.48 859.69 L120.84 860.38 L122.21 861.06 L123.57 861.75 L124.93 862.43 L126.29 863.11 L127.65 863.8 L129.02 864.48 L130.38 865.16 L131.74 865.84 L133.11 866.52 L134.47 867.19 L135.84 867.87 L137.2 868.55 L138.57 869.23 L139.93 869.9 L141.3 870.58 L142.67 871.25 L144.03 871.92 L145.4 872.6 L146.76 873.27 L148.13 873.94 L149.5 874.62 L150.86 875.29 L152.23 875.96 L153.59 876.63 L154.96 877.3 L156.32 877.97 L157.69 878.64 L159.06 879.31 L160.42 879.98 L161.79 880.64 L163.15 881.31 L164.51 881.98 L165.88 882.65 L167.24 883.31 L168.61 883.98 L169.97 884.65 L171.33 885.31 L172.69 885.98 L174.06 886.64 L175.42 887.31 L176.78 887.97 L178.14 888.64 L179.5 889.3 L180.86 889.97 L182.22 890.63 L183.58 891.3 L184.93 891.96 L186.29 892.62 L187.65 893.29 L189 893.95 L190.36 894.62 L191.71 895.28 L193.06 895.94 L194.42 896.61 L195.77 897.27 L197.12 897.93 L198.47 898.6 L199.82 899.26 L201.17 899.92 L202.53 900.58 L203.88 901.24 L205.23 901.9 L206.58 902.55 L207.93 903.21 L209.28 903.86 L210.64 904.52 L211.99 905.17 L213.35 905.82 L214.7 906.46 L216.06 907.11 L217.42 907.75 L218.77 908.39 L220.13 909.03 L221.5 909.67 L222.86 910.3 L224.22 910.93 L225.59 911.56 L226.96 912.19 L228.33 912.81 L229.7 913.43 L231.07 914.05 L232.45 914.66 L233.83 915.27 L235.21 915.88 L236.59 916.48 L237.98 917.08 L239.37 917.68 L240.76 918.27 L242.15 918.86 L243.55 919.44 L244.95 920.02 L246.35 920.59 L247.76 921.16 L249.17 921.73 L250.58 922.29 L252 922.85 L253.42 923.4 L254.84 923.95 L256.27 924.49 L257.71 925.02 L259.14 925.55 L260.58 926.08 L262.03 926.6 L263.48 927.11 L264.93 927.62 L266.39 928.12 L267.85 928.62 L269.32 929.11 L270.79 929.59 L272.26 930.06 L273.74 930.53 L275.22 930.98 L276.71 931.43 L278.19 931.87 L279.68 932.3 L281.18 932.71 L282.67 933.12 L284.17 933.51 L285.67 933.89 L287.17 934.26 L288.68 934.62 L290.18 934.96 L291.69 935.29 L293.2 935.61 L294.71 935.91 L296.22 936.19 L297.73 936.46 L299.25 936.71 L300.76 936.95 L302.27 937.17 L303.79 937.37 L305.3 937.55 L306.82 937.72 L308.33 937.87 L309.84 938 L311.35 938.1 L312.87 938.19 L314.38 938.26 L315.89 938.3 L317.4 938.33 L318.9 938.33 L320.41 938.31 L321.91 938.27 L323.41 938.2 L324.91 938.11 L326.41 938 L327.9 937.86 L329.4 937.69 L330.89 937.5 L332.37 937.29 L333.86 937.05 L335.33 936.78 L336.81 936.48 L338.28 936.16 L339.74 935.81 L341.2 935.44 L342.64 935.04 L344.08 934.61 L345.52 934.15 L346.94 933.67 L348.35 933.17 L349.75 932.63 L351.14 932.07 L352.51 931.49 L353.88 930.87 L355.23 930.23 L356.56 929.57 L357.88 928.87 L359.18 928.15 L360.47 927.41 L361.74 926.63 L362.99 925.83 L364.22 925.01 L365.44 924.16 L366.64 923.28 L367.82 922.38 L368.98 921.45 L370.12 920.5 L371.25 919.53 L372.36 918.54 L373.45 917.52 L374.52 916.49 L375.58 915.43 L376.62 914.35 L377.64 913.25 L378.65 912.14 L379.63 911 L380.61 909.85 L381.56 908.68 L382.49 907.49 L383.41 906.29 L384.32 905.07 L385.2 903.84 L386.07 902.59 L386.92 901.33 L387.76 900.05 L388.58 898.76 L389.38 897.46 L390.17 896.14 L390.94 894.82 L391.69 893.48 L392.42 892.14 L393.14 890.78 L393.85 889.41 L394.54 888.04 L395.21 886.66 L395.86 885.27 L396.5 883.87 L397.13 882.47 L397.73 881.06 L398.33 879.64 L398.9 878.22 L399.46 876.8 L400.01 875.37 L400.54 873.94 L401.05 872.5 L401.55 871.06 L402.04 869.62 L402.51 868.17 L402.97 866.72 L403.42 865.26 L403.85 863.8 L404.27 862.34 L404.68 860.88 L405.08 859.41 L405.46 857.94 L405.84 856.47 L406.2 854.99 L406.55 853.51 L406.9 852.03 L407.23 850.55 L407.55 849.06 L407.87 847.57 L408.18 846.08 L408.47 844.59 L408.76 843.09 L409.05 841.6 L409.32 840.1 L409.59 838.6 L409.85 837.1 L410.1 835.6 L410.35 834.1 L410.59 832.59 L410.83 831.09 L411.06 829.58 L411.29 828.07 L411.51 826.57 L411.73 825.06 L411.94 823.55 L412.15 822.04 L412.36 820.53 L412.57 819.02 L412.77 817.52 L412.97 816.01 L413.17 814.5 L413.37 812.99 L413.56 811.48 L413.75 809.97 L413.95 808.46 L414.14 806.96 L414.33 805.45 L414.51 803.94 L414.7 802.43 L414.88 800.93 L415.07 799.42 L415.25 797.91 L415.43 796.4 L415.61 794.9 L415.78 793.39 L415.96 791.89 L416.13 790.38 L416.31 788.87 L416.48 787.37 L416.65 785.86 L416.82 784.36 L416.99 782.85 L417.16 781.34 L417.33 779.84 L417.49 778.33 L417.66 776.83 L417.82 775.32 L417.98 773.82 L418.15 772.31 L418.31 770.81 L418.47 769.3 L418.63 767.8 L418.79 766.29 L418.95 764.79 L419.11 763.28 L419.26 761.78 L419.42 760.27 L419.58 758.77 L419.73 757.26 L419.89 755.76 L420.04 754.25 L420.19 752.75 L420.35 751.24 L420.5 749.74 L420.66 748.23 L420.81 746.73 L420.96 745.22 L421.11 743.72 L421.26 742.22 L421.42 740.71 L421.57 739.21 L421.72 737.7 L421.87 736.2 L422.02 734.69 L422.17 733.18 L422.33 731.68 L422.48 730.17 L422.63 728.67 L422.78 727.16 L422.93 725.66 L423.08 724.15 L423.24 722.65 L423.39 721.14 L423.54 719.63 L423.7 718.13 L423.85 716.62 L424 715.12 L424.16 713.61 L424.31 712.1 L424.47 710.6 L424.62 709.09 L424.78 707.58 L424.93 706.07 L425.09 704.57 L425.25 703.06 L425.41 701.55 L425.57 700.04 L425.73 698.53 L425.89 697.03 L426.05 695.52 L426.21 694.01 L426.38 692.5 L426.54 690.99 L426.71 689.48 L426.87 687.97 L427.04 686.46 L427.21 684.95 L427.38 683.44 L427.55 681.93 L427.72 680.42 L427.89 678.91 L428.06 677.4 L428.24 675.89 L428.41 674.38 L428.59 672.86 L428.77 671.35 L428.95 669.84 L429.13 668.33 L429.31 666.81 L429.5 665.3" fill="none" stroke="#0000ff" stroke-width="1.55" stroke-linecap="butt" stroke-linejoin="round"/>
<path d="M60.5 739 L61.2 739.98 L61.89 740.95 L62.59 741.93 L63.29 742.91 L63.99 743.88 L64.69 744.85 L65.4 745.83 L66.1 746.8 L66.81 747.77 L67.52 748.74 L68.22 749.71 L68.94 750.68 L69.65 751.65 L70.36 752.61 L71.07 753.58 L71.79 754.55 L72.51 755.51 L73.23 756.47 L73.95 757.44 L74.67 758.4 L75.39 759.36 L76.11 760.32 L76.84 761.28 L77.57 762.24 L78.29 763.19 L79.02 764.15 L79.75 765.1 L80.49 766.06 L81.22 767.01 L81.96 767.96 L82.69 768.91 L83.43 769.86 L84.17 770.81 L84.91 771.76 L85.65 772.71 L86.4 773.65 L87.14 774.6 L87.89 775.54 L88.64 776.49 L89.39 777.43 L90.14 778.37 L90.89 779.31 L91.64 780.25 L92.4 781.18 L93.15 782.12 L93.91 783.05 L94.67 783.99 L95.43 784.92 L96.2 785.85 L96.96 786.78 L97.73 787.71 L98.49 788.64 L99.26 789.56 L100.03 790.49 L100.8 791.41 L101.57 792.34 L102.35 793.26 L103.12 794.18 L103.9 795.1 L104.68 796.02 L105.46 796.93 L106.24 797.85 L107.03 798.76 L107.81 799.67 L108.6 800.58 L109.38 801.49 L110.17 802.4 L110.97 803.31 L111.76 804.22 L112.55 805.12 L113.35 806.02 L114.14 806.93 L114.94 807.83 L115.74 808.72 L116.54 809.62 L117.35 810.52 L118.15 811.41 L118.96 812.31 L119.77 813.2 L120.57 814.09 L121.39 814.98 L122.2 815.86 L123.01 816.75 L123.83 817.63 L124.64 818.52 L125.46 819.4 L126.28 820.28 L127.11 821.16 L127.93 822.03 L128.75 822.91 L129.58 823.78 L130.41 824.66 L131.24 825.53 L132.07 826.39 L132.9 827.26 L133.74 828.13 L134.57 828.99 L135.41 829.85 L136.25 830.72 L137.09 831.57 L137.93 832.43 L138.78 833.29 L139.62 834.14 L140.47 834.99 L141.32 835.85 L142.17 836.69 L143.02 837.54 L143.88 838.39 L144.73 839.23 L145.59 840.07 L146.45 840.92 L147.31 841.75 L148.17 842.59 L149.03 843.43 L149.9 844.26 L150.77 845.09 L151.64 845.92 L152.51 846.75 L153.38 847.58 L154.25 848.4 L155.13 849.22 L156 850.04 L156.88 850.86 L157.76 851.68 L158.65 852.5 L159.53 853.31 L160.42 854.12 L161.3 854.93 L162.19 855.74 L163.08 856.54 L163.97 857.35 L164.87 858.15 L165.76 858.95 L166.66 859.75 L167.56 860.54 L168.46 861.34 L169.36 862.13 L170.27 862.92 L171.17 863.71 L172.08 864.49 L172.99 865.28 L173.9 866.06 L174.82 866.84 L175.73 867.62 L176.65 868.39 L177.57 869.17 L178.49 869.94 L179.41 870.71 L180.33 871.48 L181.26 872.24 L182.18 873.01 L183.11 873.77 L184.04 874.53 L184.97 875.28 L185.91 876.04 L186.84 876.79 L187.78 877.54 L188.72 878.29 L189.66 879.04 L190.6 879.78 L191.55 880.52 L192.5 881.26 L193.44 882 L194.39 882.74 L195.35 883.47 L196.3 884.2 L197.26 884.93 L198.21 885.65 L199.17 886.38 L200.13 887.1 L201.1 887.82 L202.06 888.54 L203.03 889.25 L203.99 889.96 L204.96 890.67 L205.94 891.38 L206.91 892.09 L207.89 892.79 L208.86 893.49 L209.84 894.19 L210.82 894.89 L211.81 895.58 L212.79 896.27 L213.78 896.96 L214.77 897.65 L215.76 898.33 L216.75 899.01 L217.74 899.69 L218.74 900.37 L219.74 901.04 L220.74 901.71 L221.74 902.38 L222.74 903.05 L223.75 903.72 L224.75 904.38 L225.76 905.04 L226.77 905.69 L227.79 906.35 L228.8 907 L229.41 907.29 L230.02 907.58 L230.63 907.87 L231.25 908.17 L231.86 908.47 L232.47 908.76 L233.09 909.06 L233.7 909.36 L234.32 909.67 L234.93 909.97 L235.55 910.27 L236.16 910.58 L236.78 910.88 L237.4 911.19 L238.02 911.5 L238.64 911.81 L239.26 912.12 L239.88 912.43 L240.5 912.74 L241.12 913.06 L241.74 913.37 L242.36 913.68 L242.98 914 L243.61 914.31 L244.23 914.63 L244.86 914.94 L245.48 915.26 L246.11 915.58 L246.73 915.89 L247.36 916.21 L247.99 916.52 L248.62 916.84 L249.25 917.16 L249.88 917.47 L250.51 917.79 L251.14 918.11 L251.77 918.42 L252.4 918.74 L253.03 919.05 L253.67 919.37 L254.3 919.68 L254.94 920 L255.57 920.31 L256.21 920.62 L256.84 920.94 L257.48 921.25 L258.12 921.56 L258.76 921.87 L259.4 922.18 L260.04 922.48 L260.68 922.79 L261.32 923.1 L261.96 923.4 L262.61 923.7 L263.25 924.01 L263.89 924.31 L264.54 924.61 L265.19 924.91 L265.83 925.2 L266.48 925.5 L267.13 925.79 L267.78 926.08 L268.43 926.37 L269.08 926.66 L269.73 926.95 L270.38 927.23 L271.03 927.52 L271.69 927.8 L272.34 928.08 L272.99 928.35 L273.65 928.63 L274.31 928.9 L274.96 929.17 L275.62 929.44 L276.28 929.71 L276.94 929.97 L277.6 930.23 L278.26 930.49 L278.93 930.74 L279.59 931 L280.25 931.25 L280.92 931.5 L281.58 931.74 L282.25 931.98 L282.92 932.22 L283.58 932.46 L284.25 932.69 L284.92 932.92 L285.59 933.15 L286.26 933.37 L286.94 933.6 L287.61 933.81 L288.28 934.03 L288.96 934.24 L289.63 934.45 L290.31 934.65 L290.99 934.85 L291.67 935.05 L292.35 935.24 L293.03 935.43 L293.71 935.61 L294.39 935.8 L295.07 935.97 L295.76 936.15 L296.44 936.32 L297.13 936.48 L297.81 936.65 L298.5 936.8 L299.19 936.96 L299.88 937.11 L300.57 937.25 L301.26 937.39 L301.95 937.53 L302.65 937.66 L303.34 937.79 L304.03 937.91 L304.73 938.03 L305.43 938.14 L306.12 938.25 L306.82 938.35 L307.52 938.45 L308.22 938.54 L308.92 938.63 L309.62 938.72 L310.32 938.8 L311.02 938.87 L311.72 938.94 L312.42 939.01 L313.12 939.07 L313.82 939.12 L314.52 939.17 L315.22 939.22 L315.92 939.26 L316.62 939.29 L317.32 939.32 L318.03 939.35 L318.73 939.36 L319.43 939.38 L320.13 939.39 L320.83 939.39 L321.53 939.38 L322.23 939.38 L322.92 939.36 L323.62 939.34 L324.32 939.32 L325.02 939.29 L325.71 939.25 L326.41 939.21 L327.1 939.16 L327.8 939.11 L328.49 939.05 L329.18 938.98 L329.88 938.91 L330.57 938.84 L331.26 938.75 L331.94 938.66 L332.63 938.57 L333.32 938.47 L334 938.36 L334.69 938.25 L335.37 938.13 L336.05 938 L336.73 937.87 L337.41 937.73 L338.09 937.59 L338.76 937.44 L339.43 937.28 L340.11 937.12 L340.78 936.95 L341.44 936.77 L342.11 936.59 L342.78 936.4 L343.44 936.2 L344.1 936 L344.76 935.79 L345.42 935.58 L346.07 935.35 L346.72 935.12 L347.38 934.89 L348.02 934.65 L348.67 934.4 L349.32 934.14 L349.96 933.88 L350.6 933.61 L351.23 933.33 L351.87 933.05 L352.5 932.76 L353.13 932.47 L353.76 932.17 L354.38 931.86 L355 931.55 L355.62 931.23 L356.24 930.91 L356.85 930.58 L357.46 930.24 L358.07 929.9 L358.67 929.55 L359.27 929.2 L359.87 928.84 L360.46 928.47 L361.06 928.1 L361.64 927.73 L362.23 927.34 L362.81 926.96 L363.39 926.56 L363.96 926.17 L364.54 925.76 L365.1 925.36 L365.67 924.94 L366.23 924.52 L366.79 924.1 L367.34 923.67 L367.89 923.24 L368.43 922.8 L368.98 922.36 L369.51 921.91 L370.05 921.45 L370.58 921 L371.1 920.53 L371.63 920.07 L372.14 919.6 L372.66 919.12 L373.17 918.64 L373.67 918.15 L374.17 917.66 L374.67 917.17 L375.16 916.67 L375.65 916.17 L376.13 915.66 L376.61 915.15 L377.08 914.64 L377.55 914.12 L378.02 913.6 L378.48 913.07 L378.93 912.54 L379.38 912.01 L379.83 911.47 L380.27 910.93 L380.71 910.38 L381.14 909.83 L381.57 909.28 L381.99 908.73 L382.41 908.17 L382.83 907.6 L383.24 907.04 L383.65 906.47 L384.05 905.9 L384.45 905.32 L384.84 904.74 L385.23 904.16 L385.62 903.58 L386 902.99 L386.38 902.4 L386.75 901.81 L387.12 901.21 L387.49 900.61 L387.85 900.01 L388.21 899.41 L388.57 898.8 L388.92 898.2 L389.27 897.58 L389.61 896.97 L389.95 896.36 L390.29 895.74 L390.62 895.12 L390.95 894.5 L391.28 893.87 L391.6 893.25 L391.92 892.62 L392.24 891.99 L392.56 891.36 L392.87 890.72 L393.17 890.09 L393.48 889.45 L393.78 888.81 L394.08 888.17 L394.37 887.53 L394.66 886.89 L394.95 886.25 L395.24 885.6 L395.52 884.95 L395.8 884.31 L396.08 883.66 L396.36 883.01 L396.63 882.36 L396.9 881.7 L397.17 881.05 L397.43 880.4 L397.69 879.74 L397.95 879.08 L398.21 878.43 L398.46 877.77 L398.71 877.11 L398.96 876.46 L399.21 875.8 L399.46 875.14 L399.7 874.48 L399.94 873.82 L400.18 873.16 L400.41 872.49 L400.64 871.83 L400.88 871.17 L401.1 870.5 L401.33 869.84 L401.55 869.18 L401.78 868.51 L402 867.84 L402.21 867.18 L402.43 866.51 L402.64 865.84 L402.85 865.18 L403.06 864.51 L403.27 863.84 L403.47 863.17 L403.68 862.5 L403.88 861.83 L404.08 861.16 L404.27 860.49 L404.47 859.81 L404.66 859.14 L404.85 858.47 L405.04 857.79 L405.23 857.12 L405.41 856.45 L405.59 855.77 L405.77 855.1 L405.95 854.42 L406.13 853.74 L406.31 853.07 L406.48 852.39 L406.65 851.71 L406.82 851.03 L406.99 850.35 L407.16 849.68 L407.32 849 L407.48 848.32 L407.64 847.64 L407.8 846.95 L407.96 846.27 L408.12 845.59 L408.27 844.91 L408.42 844.23 L408.57 843.54 L408.72 842.86 L408.87 842.18 L409.02 841.49 L409.16 840.81 L409.3 840.13 L409.45 839.44 L409.59 838.75 L409.72 838.07 L409.86 837.38 L410 836.7 L410.13 836.01 L410.26 835.32 L410.39 834.63 L410.52 833.95 L410.65 833.26 L410.78 832.57 L410.9 831.88 L411.03 831.19 L411.15 830.5 L411.27 829.81 L411.39 829.12 L411.51 828.43 L411.63 827.74 L411.74 827.05 L411.86 826.36 L411.97 825.67 L412.08 824.98 L412.19 824.28 L412.3 823.59 L412.41 822.9 L412.52 822.21 L412.63 821.51 L412.73 820.82 L412.84 820.13 L412.94 819.43 L413.04 818.74 L413.14 818.04 L413.24 817.35 L413.34 816.65 L413.44 815.96 L413.54 815.26 L413.63 814.57 L413.73 813.87 L413.82 813.18 L413.91 812.48 L414 811.78 L414.1 811.09 L414.19 810.39 L414.27 809.69 L414.36 809 L414.45 808.3 L414.54 807.6 L414.62 806.91 L414.71 806.21 L414.79 805.51 L414.88 804.81 L414.96 804.11 L415.04 803.42 L415.12 802.72 L415.2 802.02 L415.28 801.32 L415.36 800.62 L415.44 799.92 L415.52 799.22 L415.59 798.52 L415.67 797.82 L415.75 797.12 L415.82 796.42 L415.9 795.73 L415.97 795.03 L416.04 794.33 L416.12 793.63 L416.19 792.93 L416.26 792.23 L416.33 791.53 L416.4 790.83 L416.47 790.13 L416.54 789.43 L416.61 788.72 L416.68 788.02 L416.75 787.32 L416.82 786.62 L416.89 785.92 L416.96 785.22 L417.02 784.52 L417.09 783.82 L417.16 783.12 L417.22 782.42 L417.29 781.72 L417.36 781.02 L417.42 780.32 L417.49 779.62 L417.55 778.92 L417.62 778.22 L417.68 777.52 L417.75 776.81 L417.81 776.11 L417.88 775.41 L417.94 774.71 L418.01 774.01 L418.07 773.31 L418.14 772.61 L418.2 771.91 L418.26 771.21 L418.33 770.51 L418.39 769.81 L418.46 769.11 L418.52 768.41 L418.58 767.71 L418.65 767.01 L418.71 766.31 L418.78 765.61 L418.84 764.91 L418.91 764.21 L418.97 763.51 L419.03 762.81 L419.1 762.11 L419.16 761.41 L419.23 760.72 L419.3 760.02 L419.36 759.32 L419.43 758.62 L419.49 757.92 L419.56 757.22 L419.63 756.52 L419.69 755.83 L419.76 755.13 L419.83 754.43 L419.89 753.73 L419.96 753.04 L420.03 752.34 L420.1 751.64 L420.17 750.94 L420.23 750.25 L420.3 749.55 L420.37 748.85 L420.44 748.15 L420.51 747.46 L420.58 746.76 L420.65 746.06 L420.72 745.37 L420.79 744.67 L420.86 743.98 L420.93 743.28 L421 742.58 L421.07 741.89 L421.14 741.19 L421.21 740.49 L421.28 739.8 L421.36 739.1 L421.43 738.41 L421.5 737.71 L421.57 737.02 L421.64 736.32 L421.72 735.62 L421.79 734.93 L421.86 734.23 L421.93 733.54 L422.01 732.84 L422.08 732.15 L422.15 731.45 L422.22 730.76 L422.3 730.06 L422.37 729.37 L422.45 728.67 L422.52 727.98 L422.59 727.28 L422.67 726.59 L422.74 725.89 L422.82 725.2 L422.89 724.5 L422.97 723.81 L423.04 723.11 L423.11 722.42 L423.19 721.72 L423.26 721.03 L423.34 720.33 L423.42 719.64 L423.49 718.94 L423.57 718.25 L423.64 717.55 L423.72 716.86 L423.79 716.16 L423.87 715.47 L423.95 714.77 L424.02 714.08 L424.1 713.38 L424.18 712.69 L424.25 711.99 L424.33 711.3 L424.41 710.6 L424.48 709.91 L424.56 709.21 L424.64 708.52 L424.71 707.82 L424.79 707.13 L424.87 706.43 L424.94 705.74 L425.02 705.04 L425.1 704.35 L425.18 703.65 L425.25 702.96 L425.33 702.26 L425.41 701.57 L425.49 700.87 L425.57 700.18 L425.64 699.48 L425.72 698.79 L425.8 698.09 L425.88 697.4 L425.96 696.7 L426.03 696 L426.11 695.31 L426.19 694.61 L426.27 693.92 L426.35 693.22 L426.43 692.52 L426.5 691.83 L426.58 691.13 L426.66 690.44 L426.74 689.74 L426.82 689.04 L426.9 688.35 L426.98 687.65 L427.05 686.95 L427.13 686.26 L427.21 685.56 L427.29 684.86 L427.37 684.17 L427.45 683.47 L427.53 682.77 L427.61 682.07 L427.69 681.38 L427.76 680.68 L427.84 679.98 L427.92 679.28 L428 678.59 L428.08 677.89 L428.16 677.19 L428.24 676.49 L428.32 675.79 L428.4 675.09 L428.47 674.4 L428.55 673.7 L428.63 673 L428.71 672.3 L428.79 671.6 L428.87 670.9 L428.95 670.2 L429.03 669.5 L429.11 668.8 L429.18 668.1 L429.26 667.4 L429.34 666.7 L429.42 666 L429.5 665.3" fill="none" stroke="#ff0000" stroke-width="1.5" stroke-linecap="butt" stroke-linejoin="round" stroke-dasharray="9.6 9.8"/>
<path d="M60.5 798.6 L61.25 799.29 L61.99 799.98 L62.74 800.67 L63.49 801.36 L64.24 802.05 L64.99 802.73 L65.74 803.41 L66.49 804.1 L67.25 804.77 L68 805.45 L68.76 806.13 L69.52 806.8 L70.28 807.48 L71.04 808.15 L71.8 808.82 L72.57 809.48 L73.33 810.15 L74.1 810.81 L74.86 811.48 L75.63 812.14 L76.4 812.8 L77.17 813.46 L77.95 814.11 L78.72 814.77 L79.5 815.42 L80.27 816.07 L81.05 816.72 L81.83 817.37 L82.61 818.02 L83.39 818.66 L84.17 819.3 L84.95 819.95 L85.74 820.59 L86.52 821.22 L87.31 821.86 L88.1 822.5 L88.89 823.13 L89.68 823.76 L90.47 824.39 L91.26 825.02 L92.06 825.65 L92.85 826.28 L93.65 826.9 L94.45 827.52 L95.24 828.14 L96.04 828.76 L96.84 829.38 L97.65 830 L98.45 830.61 L99.25 831.23 L100.06 831.84 L100.86 832.45 L101.67 833.06 L102.48 833.67 L103.29 834.27 L104.1 834.88 L104.91 835.48 L105.72 836.08 L106.54 836.68 L107.35 837.28 L108.17 837.88 L108.99 838.47 L109.8 839.07 L110.62 839.66 L111.44 840.25 L112.26 840.84 L113.09 841.43 L113.91 842.02 L114.73 842.6 L115.56 843.18 L116.39 843.77 L117.21 844.35 L118.04 844.93 L118.87 845.51 L119.7 846.08 L120.53 846.66 L121.36 847.23 L122.2 847.8 L123.03 848.37 L123.87 848.94 L124.7 849.51 L125.54 850.08 L126.38 850.64 L127.22 851.21 L128.06 851.77 L128.9 852.33 L129.74 852.89 L130.58 853.45 L131.42 854.01 L132.27 854.56 L133.11 855.12 L133.96 855.67 L134.81 856.22 L135.66 856.77 L136.51 857.32 L137.36 857.87 L138.21 858.41 L139.06 858.96 L139.91 859.5 L140.76 860.04 L141.62 860.58 L142.47 861.12 L143.33 861.66 L144.19 862.2 L145.04 862.73 L145.9 863.27 L146.76 863.8 L147.62 864.33 L148.48 864.86 L149.35 865.39 L150.21 865.92 L151.07 866.44 L151.94 866.97 L152.8 867.49 L153.67 868.01 L154.53 868.54 L155.4 869.06 L156.27 869.57 L157.14 870.09 L158.01 870.61 L158.88 871.12 L159.75 871.64 L160.62 872.15 L161.5 872.66 L162.37 873.17 L163.25 873.68 L164.12 874.18 L165 874.69 L165.87 875.2 L166.75 875.7 L167.63 876.2 L168.51 876.7 L169.39 877.2 L170.27 877.7 L171.15 878.2 L172.03 878.69 L172.91 879.19 L173.8 879.68 L174.68 880.18 L175.57 880.67 L176.45 881.16 L177.34 881.65 L178.22 882.13 L179.11 882.62 L180 883.11 L180.89 883.59 L181.78 884.08 L182.67 884.56 L183.56 885.04 L184.45 885.52 L185.34 886 L186.23 886.47 L187.13 886.95 L188.02 887.43 L188.91 887.9 L189.81 888.37 L190.7 888.84 L191.6 889.32 L192.5 889.79 L193.39 890.25 L194.29 890.72 L195.19 891.19 L196.09 891.65 L196.99 892.12 L197.89 892.58 L198.79 893.04 L199.69 893.5 L200.59 893.96 L201.5 894.42 L202.4 894.88 L203.3 895.34 L204.21 895.79 L205.11 896.25 L206.02 896.7 L206.92 897.15 L207.83 897.6 L208.73 898.05 L209.64 898.5 L210.55 898.95 L211.46 899.4 L212.37 899.84 L213.27 900.29 L214.18 900.73 L215.09 901.17 L216 901.62 L216.92 902.06 L217.83 902.5 L218.74 902.94 L219.65 903.37 L220.56 903.81 L221.48 904.25 L222.39 904.68 L223.31 905.12 L224.22 905.55 L225.14 905.98 L226.05 906.41 L226.97 906.84 L227.88 907.27 L228.8 907.7 L229.41 908.01 L230.02 908.33 L230.63 908.64 L231.24 908.96 L231.85 909.27 L232.47 909.59 L233.08 909.91 L233.69 910.23 L234.31 910.55 L234.92 910.87 L235.53 911.19 L236.15 911.52 L236.77 911.84 L237.38 912.16 L238 912.48 L238.62 912.81 L239.24 913.13 L239.85 913.46 L240.47 913.78 L241.09 914.11 L241.71 914.43 L242.34 914.76 L242.96 915.08 L243.58 915.41 L244.2 915.73 L244.83 916.06 L245.45 916.39 L246.07 916.71 L246.7 917.04 L247.33 917.36 L247.95 917.68 L248.58 918.01 L249.21 918.33 L249.84 918.66 L250.47 918.98 L251.1 919.3 L251.73 919.62 L252.36 919.94 L252.99 920.26 L253.62 920.58 L254.25 920.9 L254.89 921.22 L255.52 921.54 L256.16 921.85 L256.79 922.17 L257.43 922.48 L258.07 922.79 L258.7 923.11 L259.34 923.42 L259.98 923.73 L260.62 924.04 L261.26 924.34 L261.9 924.65 L262.54 924.95 L263.19 925.26 L263.83 925.56 L264.47 925.86 L265.12 926.16 L265.76 926.45 L266.41 926.75 L267.06 927.04 L267.7 927.33 L268.35 927.62 L269 927.91 L269.65 928.2 L270.3 928.48 L270.95 928.76 L271.6 929.04 L272.26 929.32 L272.91 929.6 L273.56 929.87 L274.22 930.14 L274.88 930.41 L275.53 930.68 L276.19 930.94 L276.85 931.21 L277.51 931.46 L278.17 931.72 L278.83 931.98 L279.49 932.23 L280.15 932.48 L280.81 932.72 L281.48 932.97 L282.14 933.21 L282.81 933.45 L283.47 933.68 L284.14 933.91 L284.81 934.14 L285.48 934.37 L286.14 934.59 L286.81 934.81 L287.49 935.03 L288.16 935.24 L288.83 935.45 L289.5 935.66 L290.18 935.86 L290.85 936.06 L291.53 936.26 L292.21 936.45 L292.88 936.64 L293.56 936.83 L294.24 937.01 L294.92 937.19 L295.6 937.37 L296.29 937.54 L296.97 937.71 L297.65 937.87 L298.34 938.03 L299.02 938.18 L299.71 938.34 L300.4 938.48 L301.09 938.63 L301.78 938.77 L302.47 938.9 L303.16 939.03 L303.85 939.16 L304.54 939.28 L305.24 939.4 L305.93 939.51 L306.62 939.62 L307.32 939.72 L308.01 939.82 L308.71 939.92 L309.41 940.01 L310.1 940.09 L310.8 940.17 L311.5 940.25 L312.2 940.32 L312.89 940.38 L313.59 940.44 L314.29 940.5 L314.99 940.55 L315.69 940.59 L316.38 940.63 L317.08 940.66 L317.78 940.69 L318.48 940.72 L319.18 940.73 L319.87 940.74 L320.57 940.75 L321.27 940.75 L321.96 940.75 L322.66 940.74 L323.35 940.72 L324.05 940.7 L324.74 940.67 L325.43 940.63 L326.13 940.59 L326.82 940.55 L327.51 940.49 L328.2 940.43 L328.89 940.37 L329.58 940.3 L330.27 940.22 L330.95 940.13 L331.64 940.04 L332.32 939.94 L333.01 939.84 L333.69 939.73 L334.37 939.61 L335.05 939.49 L335.73 939.36 L336.41 939.22 L337.08 939.07 L337.76 938.92 L338.43 938.76 L339.1 938.6 L339.77 938.42 L340.44 938.24 L341.1 938.06 L341.77 937.86 L342.43 937.66 L343.09 937.45 L343.75 937.23 L344.41 937.01 L345.07 936.77 L345.72 936.53 L346.37 936.29 L347.02 936.03 L347.67 935.77 L348.31 935.5 L348.95 935.22 L349.6 934.94 L350.23 934.65 L350.87 934.35 L351.5 934.04 L352.14 933.73 L352.76 933.41 L353.39 933.09 L354.02 932.76 L354.64 932.42 L355.26 932.08 L355.87 931.73 L356.49 931.37 L357.1 931.01 L357.71 930.65 L358.31 930.28 L358.92 929.9 L359.52 929.52 L360.11 929.13 L360.71 928.74 L361.3 928.34 L361.89 927.93 L362.48 927.53 L363.06 927.12 L363.64 926.7 L364.22 926.28 L364.79 925.85 L365.36 925.42 L365.93 924.99 L366.49 924.55 L367.05 924.1 L367.61 923.66 L368.16 923.21 L368.71 922.75 L369.25 922.29 L369.8 921.82 L370.33 921.36 L370.87 920.88 L371.4 920.41 L371.92 919.92 L372.44 919.44 L372.96 918.95 L373.47 918.46 L373.98 917.96 L374.48 917.46 L374.98 916.96 L375.48 916.45 L375.97 915.94 L376.45 915.42 L376.93 914.9 L377.41 914.38 L377.88 913.85 L378.34 913.32 L378.8 912.79 L379.26 912.25 L379.71 911.71 L380.15 911.17 L380.59 910.62 L381.03 910.07 L381.46 909.52 L381.88 908.96 L382.31 908.4 L382.72 907.84 L383.14 907.27 L383.54 906.71 L383.95 906.13 L384.35 905.56 L384.74 904.98 L385.13 904.4 L385.52 903.82 L385.9 903.23 L386.28 902.65 L386.65 902.06 L387.02 901.46 L387.38 900.87 L387.74 900.27 L388.1 899.67 L388.46 899.06 L388.81 898.46 L389.15 897.85 L389.49 897.24 L389.83 896.63 L390.17 896.02 L390.5 895.4 L390.82 894.78 L391.15 894.16 L391.47 893.54 L391.79 892.92 L392.1 892.29 L392.41 891.66 L392.72 891.03 L393.02 890.4 L393.32 889.77 L393.62 889.14 L393.91 888.5 L394.21 887.86 L394.49 887.23 L394.78 886.59 L395.06 885.95 L395.34 885.3 L395.62 884.66 L395.89 884.01 L396.16 883.37 L396.43 882.72 L396.7 882.07 L396.96 881.42 L397.22 880.77 L397.48 880.12 L397.74 879.47 L397.99 878.82 L398.24 878.16 L398.49 877.51 L398.74 876.85 L398.98 876.2 L399.23 875.54 L399.47 874.88 L399.7 874.23 L399.94 873.57 L400.17 872.91 L400.4 872.25 L400.63 871.59 L400.86 870.93 L401.08 870.26 L401.31 869.6 L401.53 868.94 L401.75 868.28 L401.96 867.61 L402.18 866.95 L402.39 866.28 L402.6 865.61 L402.81 864.95 L403.01 864.28 L403.22 863.61 L403.42 862.94 L403.62 862.27 L403.82 861.6 L404.02 860.93 L404.21 860.26 L404.4 859.59 L404.59 858.92 L404.78 858.24 L404.97 857.57 L405.16 856.9 L405.34 856.22 L405.52 855.55 L405.7 854.87 L405.88 854.2 L406.05 853.52 L406.23 852.84 L406.4 852.16 L406.57 851.49 L406.74 850.81 L406.91 850.13 L407.08 849.45 L407.24 848.77 L407.4 848.09 L407.56 847.41 L407.72 846.73 L407.88 846.04 L408.04 845.36 L408.19 844.68 L408.34 843.99 L408.49 843.31 L408.64 842.63 L408.79 841.94 L408.94 841.26 L409.08 840.57 L409.23 839.88 L409.37 839.2 L409.51 838.51 L409.65 837.82 L409.79 837.14 L409.92 836.45 L410.06 835.76 L410.19 835.07 L410.32 834.38 L410.45 833.69 L410.58 833 L410.71 832.31 L410.84 831.62 L410.96 830.93 L411.09 830.24 L411.21 829.55 L411.33 828.85 L411.45 828.16 L411.57 827.47 L411.69 826.78 L411.81 826.08 L411.92 825.39 L412.04 824.69 L412.15 824 L412.26 823.31 L412.37 822.61 L412.48 821.91 L412.59 821.22 L412.7 820.52 L412.8 819.83 L412.91 819.13 L413.01 818.43 L413.12 817.74 L413.22 817.04 L413.32 816.34 L413.42 815.65 L413.52 814.95 L413.62 814.25 L413.72 813.55 L413.81 812.85 L413.91 812.15 L414 811.45 L414.1 810.75 L414.19 810.06 L414.28 809.36 L414.37 808.66 L414.46 807.96 L414.55 807.26 L414.64 806.56 L414.73 805.85 L414.81 805.15 L414.9 804.45 L414.98 803.75 L415.07 803.05 L415.15 802.35 L415.24 801.65 L415.32 800.95 L415.4 800.24 L415.48 799.54 L415.56 798.84 L415.64 798.14 L415.72 797.44 L415.8 796.73 L415.88 796.03 L415.95 795.33 L416.03 794.63 L416.11 793.92 L416.18 793.22 L416.26 792.52 L416.33 791.82 L416.41 791.11 L416.48 790.41 L416.55 789.71 L416.63 789 L416.7 788.3 L416.77 787.6 L416.84 786.89 L416.91 786.19 L416.98 785.49 L417.05 784.78 L417.12 784.08 L417.19 783.38 L417.26 782.67 L417.33 781.97 L417.4 781.27 L417.46 780.56 L417.53 779.86 L417.6 779.16 L417.67 778.45 L417.73 777.75 L417.8 777.05 L417.87 776.34 L417.93 775.64 L418 774.94 L418.07 774.24 L418.13 773.53 L418.2 772.83 L418.26 772.13 L418.33 771.42 L418.39 770.72 L418.46 770.02 L418.52 769.32 L418.59 768.61 L418.66 767.91 L418.72 767.21 L418.79 766.51 L418.85 765.81 L418.92 765.1 L418.98 764.4 L419.05 763.7 L419.11 763 L419.18 762.3 L419.24 761.6 L419.31 760.9 L419.37 760.2 L419.44 759.5 L419.5 758.8 L419.57 758.1 L419.64 757.4 L419.7 756.7 L419.77 756 L419.84 755.3 L419.9 754.6 L419.97 753.9 L420.04 753.2 L420.1 752.5 L420.17 751.8 L420.24 751.1 L420.3 750.4 L420.37 749.7 L420.44 749.01 L420.51 748.31 L420.58 747.61 L420.64 746.91 L420.71 746.21 L420.78 745.52 L420.85 744.82 L420.92 744.12 L420.99 743.42 L421.06 742.73 L421.12 742.03 L421.19 741.33 L421.26 740.64 L421.33 739.94 L421.4 739.24 L421.47 738.55 L421.54 737.85 L421.61 737.15 L421.68 736.46 L421.75 735.76 L421.82 735.06 L421.89 734.37 L421.96 733.67 L422.03 732.97 L422.1 732.28 L422.18 731.58 L422.25 730.89 L422.32 730.19 L422.39 729.49 L422.46 728.8 L422.53 728.1 L422.6 727.41 L422.68 726.71 L422.75 726.02 L422.82 725.32 L422.89 724.62 L422.96 723.93 L423.04 723.23 L423.11 722.54 L423.18 721.84 L423.26 721.15 L423.33 720.45 L423.4 719.76 L423.47 719.06 L423.55 718.36 L423.62 717.67 L423.7 716.97 L423.77 716.28 L423.84 715.58 L423.92 714.89 L423.99 714.19 L424.07 713.5 L424.14 712.8 L424.21 712.11 L424.29 711.41 L424.36 710.71 L424.44 710.02 L424.51 709.32 L424.59 708.63 L424.67 707.93 L424.74 707.24 L424.82 706.54 L424.89 705.84 L424.97 705.15 L425.04 704.45 L425.12 703.76 L425.2 703.06 L425.27 702.36 L425.35 701.67 L425.43 700.97 L425.5 700.27 L425.58 699.58 L425.66 698.88 L425.73 698.18 L425.81 697.49 L425.89 696.79 L425.97 696.09 L426.04 695.4 L426.12 694.7 L426.2 694 L426.28 693.31 L426.35 692.61 L426.43 691.91 L426.51 691.21 L426.59 690.52 L426.67 689.82 L426.75 689.12 L426.83 688.42 L426.91 687.72 L426.98 687.02 L427.06 686.33 L427.14 685.63 L427.22 684.93 L427.3 684.23 L427.38 683.53 L427.46 682.83 L427.54 682.13 L427.62 681.43 L427.7 680.73 L427.78 680.03 L427.86 679.33 L427.94 678.63 L428.02 677.93 L428.11 677.23 L428.19 676.53 L428.27 675.83 L428.35 675.13 L428.43 674.43 L428.51 673.73 L428.59 673.03 L428.67 672.33 L428.76 671.62 L428.84 670.92 L428.92 670.22 L429 669.52 L429.09 668.82 L429.17 668.11 L429.25 667.41 L429.33 666.71 L429.42 666 L429.5 665.3" fill="none" stroke="#ff0000" stroke-width="1.5" stroke-linecap="butt" stroke-linejoin="round" stroke-dasharray="9.6 9.8" stroke-dashoffset="18.97"/>
</g>
<g clip-path="url(#cr)">
<path d="M495.3 881.42 L869 881.42" fill="none" stroke="#000" stroke-width="1.25" stroke-dasharray="9.6 9.9"/>
<path d="M495.3 881.42 L869 881.42" fill="none" stroke="#000" stroke-width="2.2" stroke-linecap="round" stroke-dasharray="0.01 19.49" stroke-dashoffset="5"/>
<path d="M495.3 657.7 L495.82 658.16 L496.35 658.63 L496.87 659.09 L497.4 659.55 L497.92 660.01 L498.45 660.48 L498.97 660.94 L499.5 661.4 L500.02 661.87 L500.55 662.33 L501.07 662.79 L501.6 663.26 L502.12 663.72 L502.64 664.18 L503.17 664.65 L503.69 665.11 L504.22 665.58 L504.74 666.04 L505.26 666.5 L505.79 666.97 L506.31 667.43 L506.84 667.9 L507.36 668.36 L507.88 668.83 L508.41 669.29 L508.93 669.76 L509.45 670.22 L509.97 670.69 L510.5 671.15 L511.02 671.62 L511.54 672.08 L512.07 672.55 L512.59 673.01 L513.11 673.48 L513.63 673.94 L514.16 674.41 L514.68 674.87 L515.2 675.34 L515.72 675.81 L516.25 676.27 L516.77 676.74 L517.29 677.2 L517.81 677.67 L518.33 678.14 L518.86 678.6 L519.38 679.07 L519.9 679.54 L520.42 680 L520.94 680.47 L521.46 680.94 L521.99 681.4 L522.51 681.87 L523.03 682.34 L523.55 682.8 L524.07 683.27 L524.59 683.74 L525.11 684.2 L525.63 684.67 L526.15 685.14 L526.68 685.61 L527.2 686.07 L527.72 686.54 L528.24 687.01 L528.76 687.48 L529.28 687.94 L529.8 688.41 L530.32 688.88 L530.84 689.35 L531.36 689.82 L531.88 690.28 L532.4 690.75 L532.92 691.22 L533.44 691.69 L533.96 692.16 L534.48 692.63 L535 693.09 L535.52 693.56 L536.04 694.03 L536.56 694.5 L537.08 694.97 L537.6 695.44 L538.12 695.91 L538.64 696.38 L539.16 696.84 L539.68 697.31 L540.2 697.78 L540.72 698.25 L541.24 698.72 L541.75 699.19 L542.27 699.66 L542.79 700.13 L543.31 700.6 L543.83 701.07 L544.35 701.54 L544.87 702.01 L545.39 702.48 L545.91 702.95 L546.42 703.42 L546.94 703.89 L547.46 704.36 L547.98 704.83 L548.5 705.3 L549.02 705.77 L549.54 706.24 L550.05 706.71 L550.57 707.18 L551.09 707.65 L551.61 708.12 L552.13 708.59 L552.65 709.06 L553.16 709.53 L553.68 710 L554.2 710.47 L554.72 710.94 L555.24 711.41 L555.75 711.88 L556.27 712.35 L556.79 712.83 L557.31 713.3 L557.82 713.77 L558.34 714.24 L558.86 714.71 L559.38 715.18 L559.89 715.65 L560.41 716.12 L560.93 716.59 L561.45 717.07 L561.96 717.54 L562.48 718.01 L563 718.48 L563.52 718.95 L564.03 719.42 L564.55 719.89 L565.07 720.37 L565.58 720.84 L566.1 721.31 L566.62 721.78 L567.13 722.25 L567.65 722.73 L568.17 723.2 L568.69 723.67 L569.2 724.14 L569.72 724.61 L570.24 725.09 L570.75 725.56 L571.27 726.03 L571.79 726.5 L572.3 726.97 L572.82 727.45 L573.34 727.92 L573.85 728.39 L574.37 728.86 L574.88 729.34 L575.4 729.81 L575.92 730.28 L576.43 730.75 L576.95 731.23 L577.47 731.7 L577.98 732.17 L578.5 732.64 L579.01 733.12 L579.53 733.59 L580.05 734.06 L580.56 734.53 L581.08 735.01 L581.6 735.48 L582.11 735.95 L582.63 736.42 L583.14 736.9 L583.66 737.37 L584.18 737.84 L584.69 738.32 L585.21 738.79 L585.72 739.26 L586.24 739.74 L586.75 740.21 L587.27 740.68 L587.79 741.16 L588.3 741.63 L588.82 742.1 L589.33 742.57 L589.85 743.05 L590.36 743.52 L590.88 743.99 L591.39 744.47 L591.91 744.94 L592.43 745.41 L592.94 745.89 L593.46 746.36 L593.97 746.83 L594.49 747.31 L595 747.78 L595.52 748.26 L596.03 748.73 L596.55 749.2 L597.06 749.68 L597.58 750.15 L598.1 750.62 L598.61 751.1 L599.13 751.57 L599.64 752.04 L600.16 752.52 L600.67 752.99 L601.19 753.46 L601.7 753.94 L602.22 754.41 L602.73 754.89 L603.25 755.36 L603.76 755.83 L604.28 756.31 L604.79 756.78 L605.31 757.26 L605.82 757.73 L606.34 758.2 L606.85 758.68 L607.37 759.15 L607.88 759.62 L608.4 760.1 L608.91 760.57 L609.43 761.05 L609.94 761.52 L610.46 761.99 L610.97 762.47 L611.49 762.94 L612 763.42 L612.52 763.89 L613.03 764.36 L613.55 764.84 L614.06 765.31 L614.58 765.79 L615.09 766.26 L615.61 766.73 L616.12 767.21 L616.64 767.68 L617.15 768.16 L617.67 768.63 L618.18 769.1 L618.7 769.58 L619.21 770.05 L619.73 770.53 L620.24 771 L620.76 771.47 L621.27 771.95 L621.79 772.42 L622.3 772.9 L622.82 773.37 L623.33 773.84 L623.85 774.32 L624.36 774.79 L624.88 775.27 L625.39 775.74 L625.91 776.21 L626.42 776.69 L626.93 777.16 L627.45 777.64 L627.96 778.11 L628.48 778.58 L628.99 779.06 L629.51 779.53 L630.02 780.01 L630.54 780.48 L631.05 780.95 L631.57 781.43 L632.08 781.9 L632.6 782.38 L633.11 782.85 L633.63 783.32 L634.14 783.8 L634.66 784.27 L635.17 784.74 L635.69 785.22 L636.2 785.69 L636.72 786.17 L637.23 786.64 L637.75 787.11 L638.26 787.59 L638.78 788.06 L639.29 788.54 L639.81 789.01 L640.32 789.48 L640.84 789.96 L641.35 790.43 L641.87 790.9 L642.38 791.38 L642.9 791.85 L643.41 792.33 L643.93 792.8 L644.44 793.27 L644.96 793.75 L645.47 794.22 L645.99 794.69 L646.5 795.17 L647.02 795.64 L647.53 796.11 L648.05 796.59 L648.57 797.06 L649.08 797.54 L649.6 798.01 L650.11 798.48 L650.63 798.96 L651.14 799.43 L651.66 799.9 L652.17 800.38 L652.69 800.85 L653.2 801.32 L653.72 801.8 L654.23 802.27 L654.75 802.74 L655.26 803.22 L655.78 803.69 L656.3 804.16 L656.81 804.64 L657.33 805.11 L657.84 805.58 L658.36 806.05 L658.87 806.53 L659.39 807 L659.9 807.47 L660.42 807.95 L660.94 808.42 L661.45 808.89 L661.97 809.37 L662.48 809.84 L663 810.31 L663.52 810.78 L664.03 811.26 L664.55 811.73 L665.06 812.2 L665.58 812.68 L666.09 813.15 L666.61 813.62 L667.13 814.09 L667.64 814.57 L668.16 815.04 L668.67 815.51 L669.19 815.98 L669.71 816.46 L670.22 816.93 L670.74 817.4 L671.26 817.87 L671.77 818.34 L672.29 818.82 L672.8 819.29 L673.32 819.76 L673.84 820.23 L674.35 820.71 L674.87 821.18 L675.39 821.65 L675.9 822.12 L676.42 822.59 L676.94 823.07 L677.45 823.54 L677.97 824.01 L678.49 824.48 L679 824.95 L679.52 825.43 L680.04 825.9 L680.55 826.37 L681.07 826.84 L681.59 827.31 L682.1 827.78 L682.62 828.26 L683.14 828.73 L683.65 829.2 L684.17 829.67 L684.69 830.14 L685.2 830.62 L685.72 831.09 L686.23 831.56 L686.75 832.03 L687.27 832.5 L687.78 832.98 L688.3 833.45 L688.82 833.92 L689.33 834.39 L689.85 834.86 L690.37 835.34 L690.88 835.81 L691.4 836.28 L691.92 836.75 L692.43 837.22 L692.95 837.7 L693.47 838.17 L693.98 838.64 L694.5 839.11 L695.01 839.59 L695.53 840.06 L696.05 840.53 L696.56 841 L697.08 841.47 L697.59 841.95 L698.11 842.42 L698.63 842.89 L699.14 843.36 L699.66 843.84 L700.17 844.31 L700.69 844.78 L701.21 845.26 L701.72 845.73 L702.24 846.2 L702.75 846.67 L703.27 847.15 L703.78 847.62 L704.3 848.09 L704.82 848.57 L705.33 849.04 L705.85 849.51 L706.36 849.99 L706.88 850.46 L707.39 850.93 L707.91 851.41 L708.42 851.88 L708.94 852.36 L709.45 852.83 L709.97 853.3 L710.48 853.78 L711 854.25 L711.51 854.73 L712.02 855.2 L712.54 855.68 L713.05 856.15 L713.57 856.62 L714.08 857.1 L714.6 857.57 L715.11 858.05 L715.62 858.52 L716.14 859 L716.65 859.47 L717.16 859.95 L717.68 860.42 L718.19 860.9 L718.71 861.38 L719.22 861.85 L719.73 862.33 L720.24 862.8 L720.76 863.28 L721.27 863.76 L721.78 864.23 L722.3 864.71 L722.81 865.18 L723.32 865.66 L723.83 866.14 L724.35 866.62 L724.86 867.09 L725.37 867.57 L725.88 868.05 L726.39 868.52 L726.91 869 L727.42 869.48 L727.93 869.96 L728.44 870.43 L728.95 870.91 L729.46 871.39 L729.97 871.87 L730.48 872.35 L731 872.83 L731.51 873.31 L732.02 873.78 L732.53 874.26 L733.04 874.74 L733.55 875.22 L734.06 875.7 L734.57 876.18 L735.08 876.66 L735.59 877.14 L736.1 877.62 L736.6 878.1 L737.11 878.58 L737.62 879.06 L738.13 879.54 L738.64 880.03 L739.15 880.51 L739.66 880.99 L740.17 881.47 L740.67 881.95 L741.18 882.43 L741.69 882.92 L742.2 883.4 L742.71 883.88 L743.21 884.36 L743.72 884.85 L744.23 885.33 L744.73 885.81 L745.24 886.3 L745.75 886.78 L746.25 887.26 L746.76 887.75 L747.27 888.23 L747.77 888.72 L748.28 889.2 L748.78 889.68 L749.29 890.17 L749.79 890.65 L750.3 891.14 L750.8 891.63 L751.31 892.11 L751.81 892.6 L752.32 893.08 L752.82 893.57 L753.32 894.06 L753.83 894.54 L754.33 895.03 L754.83 895.52 L755.34 896.01 L755.84 896.5 L756.34 896.99 L756.84 897.48 L757.34 897.96 L757.84 898.45 L758.34 898.95 L758.84 899.44 L759.34 899.93 L759.84 900.42 L760.33 900.91 L760.83 901.41 L761.33 901.9 L761.82 902.39 L762.32 902.89 L762.81 903.38 L763.31 903.88 L763.8 904.38 L764.3 904.87 L764.79 905.37 L765.28 905.87 L765.77 906.37 L766.26 906.87 L766.75 907.37 L767.24 907.87 L767.72 908.37 L768.21 908.87 L768.7 909.37 L769.18 909.88 L769.67 910.38 L770.15 910.89 L770.63 911.39 L771.11 911.9 L771.59 912.41 L772.07 912.92 L772.55 913.43 L773.03 913.94 L773.5 914.45 L773.98 914.96 L774.45 915.48 L774.93 915.99 L775.4 916.5 L775.87 917.02 L776.34 917.54 L776.81 918.06 L777.28 918.57 L777.74 919.09 L778.21 919.62 L778.67 920.14 L779.13 920.66 L779.6 921.18 L780.06 921.71 L780.51 922.24 L780.97 922.76 L781.43 923.29 L781.88 923.82 L782.34 924.35 L782.79 924.89 L783.24 925.42 L783.69 925.95 L784.14 926.49 L784.58 927.03 L785.03 927.56 L785.47 928.1 L785.91 928.64 L786.35 929.19 L786.79 929.73 L787.23 930.27 L787.66 930.82 L788.1 931.37 L788.53 931.92 L788.96 932.47 L789.39 933.02 L789.82 933.57 L790.24 934.13 L790.67 934.68 L791.09 935.24 L791.51 935.8 L791.93 936.36 L792.35 936.92 L792.76 937.48 L793.18 938.04 L793.59 938.61 L794 939.17 L794.41 939.74 L794.82 940.31 L795.22 940.88 L795.63 941.45 L796.03 942.02 L796.44 942.6 L796.84 943.17 L797.24 943.75 L797.64 944.32 L798.03 944.9 L798.43 945.48 L798.82 946.06 L799.22 946.64 L799.61 947.22 L800 947.8 L800.39 948.38 L800.78 948.97 L801.16 949.55 L801.55 950.14 L801.93 950.73 L802.32 951.31 L802.7 951.9 L803.08 952.49 L803.46 953.08 L803.84 953.67 L804.22 954.26 L804.6 954.85 L804.97 955.45 L805.35 956.04 L805.72 956.63 L806.1 957.23 L806.47 957.82 L806.84 958.42 L807.21 959.02 L807.58 959.61 L807.95 960.21 L808.32 960.81 L808.69 961.41 L809.05 962.01 L809.42 962.6 L809.79 963.2 L810.15 963.8 L810.51 964.4 L810.88 965.01 L811.24 965.61 L811.6 966.21 L811.96 966.81 L812.32 967.41 L812.68 968.01 L813.04 968.62 L813.4 969.22 L813.76 969.82 L814.12 970.42 L814.47 971.03 L814.83 971.63 L815.19 972.23 L815.54 972.84 L815.9 973.44 L816.25 974.05 L816.61 974.65 L816.96 975.25 L817.32 975.86 L817.67 976.46 L818.02 977.07 L818.38 977.67 L818.73 978.27 L819.08 978.88 L819.43 979.48 L819.78 980.09 L820.13 980.69 L820.48 981.3 L820.83 981.9 L821.18 982.51 L821.52 983.12 L821.87 983.72 L822.22 984.33 L822.56 984.94 L822.91 985.54 L823.25 986.15 L823.6 986.76 L823.94 987.37 L824.28 987.97 L824.62 988.58 L824.96 989.19 L825.3 989.8 L825.64 990.41 L825.98 991.02 L826.32 991.63 L826.66 992.24 L826.99 992.85 L827.33 993.46 L827.67 994.08 L828 994.69 L828.33 995.3 L828.66 995.92 L829 996.53 L829.33 997.15 L829.66 997.76 L829.99 998.38 L830.31 998.99 L830.64 999.61 L830.97 1000.23 L831.29 1000.84 L831.62 1001.46 L831.94 1002.08 L832.26 1002.7 L832.58 1003.32 L832.91 1003.94 L833.22 1004.56 L833.54 1005.19 L833.86 1005.81 L834.18 1006.43 L834.49 1007.06 L834.81 1007.68 L835.12 1008.31 L835.43 1008.93 L835.74 1009.56 L836.05 1010.19 L836.36 1010.82 L836.67 1011.45 L836.98 1012.08 L837.28 1012.71 L837.59 1013.34 L837.89 1013.97 L838.19 1014.6 L838.49 1015.24 L838.79 1015.87 L839.09 1016.51 L839.38 1017.15 L839.68 1017.78 L839.97 1018.42 L840.27 1019.06 L840.56 1019.7 L840.85 1020.34 L841.14 1020.99 L841.43 1021.63 L841.71 1022.27 L842 1022.92 L842.28 1023.56 L842.56 1024.21 L842.85 1024.86 L843.13 1025.51 L843.4 1026.16 L843.68 1026.81 L843.96 1027.46 L844.23 1028.12 L844.5 1028.77 L844.77 1029.43 L845.04 1030.08 L845.31 1030.74 L845.58 1031.4 L845.84 1032.05 L846.11 1032.71 L846.37 1033.36 L846.63 1034.02 L846.89 1034.67 L847.15 1035.32 L847.41 1035.96 L847.67 1036.6 L847.93 1037.24 L848.19 1037.87 L848.45 1038.5 L848.71 1039.12 L848.96 1039.73 L849.22 1040.34 L849.48 1040.94 L849.74 1041.54 L850 1042.14 L850.26 1042.75 L850.54 1043.36 L850.81 1043.98 L851.1 1044.62 L851.4 1045.27 L851.71 1045.95 L852.03 1046.65 L852.36 1047.38 L852.71 1048.14 L853.08 1048.92 L853.45 1049.65 L853.83 1050.28 L854.22 1050.74 L854.6 1050.99 L854.97 1050.97 L855.34 1050.68 L855.68 1050.18 L856.02 1049.53 L856.33 1048.78 L856.61 1047.99 L856.87 1047.22 L857.1 1046.46 L857.31 1045.71 L857.5 1044.98 L857.66 1044.26 L857.81 1043.55 L857.94 1042.85 L858.06 1042.16 L858.17 1041.48 L858.26 1040.79 L858.35 1040.12 L858.44 1039.44 L858.52 1038.76 L858.59 1038.08 L858.67 1037.41 L858.74 1036.72 L858.81 1036.04 L858.88 1035.36 L858.95 1034.68 L859.02 1033.99 L859.08 1033.31 L859.14 1032.62 L859.21 1031.93 L859.26 1031.25 L859.32 1030.56 L859.38 1029.87 L859.43 1029.17 L859.49 1028.48 L859.54 1027.79 L859.59 1027.1 L859.64 1026.4 L859.68 1025.71 L859.73 1025.01 L859.77 1024.32 L859.82 1023.62 L859.86 1022.92 L859.9 1022.22 L859.94 1021.52 L859.98 1020.83 L860.01 1020.13 L860.05 1019.43 L860.09 1018.73 L860.12 1018.02 L860.15 1017.32 L860.19 1016.62 L860.22 1015.92 L860.25 1015.22 L860.28 1014.51 L860.31 1013.81 L860.34 1013.11 L860.36 1012.4 L860.39 1011.7 L860.42 1011 L860.44 1010.29 L860.47 1009.59 L860.49 1008.89 L860.52 1008.18 L860.54 1007.48 L860.56 1006.77 L860.59 1006.07 L860.61 1005.37 L860.63 1004.66 L860.65 1003.96 L860.68 1003.25 L860.7 1002.55 L860.72 1001.85 L860.74 1001.14 L860.76 1000.44 L860.78 999.74 L860.8 999.04 L860.82 998.33 L860.85 997.63 L860.87 996.93 L860.89 996.23 L860.91 995.53 L860.93 994.83 L860.95 994.13 L860.98 993.43 L861 992.73 L861.02 992.03 L861.04 991.34 L861.07 990.64 L861.09 989.94 L861.11 989.24 L861.14 988.55 L861.16 987.85 L861.18 987.15 L861.21 986.46 L861.23 985.76 L861.25 985.07 L861.28 984.37 L861.3 983.67 L861.32 982.98 L861.35 982.28 L861.37 981.59 L861.39 980.89 L861.42 980.2 L861.44 979.5 L861.46 978.8 L861.49 978.11 L861.51 977.41 L861.53 976.72 L861.56 976.02 L861.58 975.32 L861.6 974.62 L861.63 973.93 L861.65 973.23 L861.67 972.53 L861.69 971.83 L861.72 971.13 L861.74 970.44 L861.76 969.74 L861.78 969.04 L861.8 968.34 L861.82 967.63 L861.84 966.93 L861.87 966.23 L861.89 965.53 L861.91 964.82 L861.93 964.12 L861.94 963.42 L861.96 962.71 L861.98 962 L862 961.3" fill="none" stroke="#0000ff" stroke-width="1.55" stroke-linecap="butt" stroke-linejoin="round"/>
<path d="M495.3 606.1 L495.94 607.02 L496.58 607.95 L497.21 608.87 L497.85 609.79 L498.49 610.72 L499.12 611.64 L499.76 612.56 L500.4 613.49 L501.03 614.41 L501.67 615.34 L502.3 616.26 L502.94 617.19 L503.58 618.11 L504.21 619.04 L504.85 619.96 L505.48 620.89 L506.12 621.81 L506.75 622.74 L507.38 623.67 L508.02 624.59 L508.65 625.52 L509.29 626.45 L509.92 627.37 L510.56 628.3 L511.19 629.23 L511.83 630.15 L512.46 631.08 L513.09 632.01 L513.73 632.93 L514.36 633.86 L515 634.79 L515.63 635.72 L516.26 636.64 L516.9 637.57 L517.53 638.5 L518.17 639.42 L518.8 640.35 L519.44 641.28 L520.07 642.2 L520.71 643.13 L521.34 644.06 L521.98 644.99 L522.61 645.91 L523.25 646.84 L523.88 647.77 L524.52 648.69 L525.15 649.62 L525.79 650.55 L526.42 651.47 L527.06 652.4 L527.7 653.32 L528.33 654.25 L528.97 655.18 L529.61 656.1 L530.25 657.03 L530.88 657.95 L531.52 658.88 L532.16 659.8 L532.8 660.73 L533.44 661.65 L534.08 662.58 L534.71 663.5 L535.35 664.42 L535.99 665.35 L536.63 666.27 L537.28 667.19 L537.92 668.12 L538.56 669.04 L539.2 669.96 L539.84 670.88 L540.48 671.81 L541.13 672.73 L541.77 673.65 L542.41 674.57 L543.06 675.49 L543.7 676.41 L544.35 677.33 L544.99 678.25 L545.64 679.17 L546.29 680.09 L546.93 681.01 L547.58 681.92 L548.23 682.84 L548.88 683.76 L549.53 684.68 L550.18 685.59 L550.83 686.51 L551.48 687.42 L552.13 688.34 L552.78 689.25 L553.44 690.17 L554.09 691.08 L554.74 691.99 L555.4 692.91 L556.05 693.82 L556.71 694.73 L557.36 695.64 L558.02 696.55 L558.68 697.46 L559.34 698.37 L560 699.28 L560.66 700.19 L561.32 701.1 L561.98 702.01 L562.64 702.92 L563.3 703.82 L563.97 704.73 L564.63 705.63 L565.3 706.54 L565.96 707.44 L566.63 708.35 L567.29 709.25 L567.96 710.15 L568.63 711.05 L569.3 711.95 L569.97 712.85 L570.64 713.75 L571.32 714.65 L571.99 715.55 L572.66 716.45 L573.34 717.35 L574.01 718.24 L574.69 719.14 L575.37 720.03 L576.05 720.93 L576.73 721.82 L577.41 722.71 L578.09 723.61 L578.77 724.5 L579.45 725.39 L580.14 726.28 L580.82 727.17 L581.51 728.05 L582.19 728.94 L582.88 729.83 L583.57 730.71 L584.26 731.6 L584.95 732.48 L585.65 733.37 L586.34 734.25 L587.03 735.13 L587.73 736.01 L588.43 736.89 L589.12 737.77 L589.82 738.65 L590.52 739.52 L591.22 740.4 L591.93 741.28 L592.63 742.15 L593.33 743.02 L594.04 743.9 L594.75 744.77 L595.46 745.64 L596.16 746.51 L596.88 747.38 L597.59 748.24 L598.3 749.11 L599.01 749.98 L599.73 750.84 L600.45 751.71 L601.16 752.57 L601.88 753.43 L602.6 754.29 L603.33 755.15 L604.05 756.01 L604.77 756.87 L605.5 757.72 L606.23 758.58 L606.95 759.43 L607.68 760.29 L608.42 761.14 L609.15 761.99 L609.88 762.84 L610.62 763.69 L611.35 764.53 L612.09 765.38 L612.83 766.23 L613.57 767.07 L614.32 767.91 L615.06 768.76 L615.8 769.6 L616.55 770.44 L617.3 771.27 L618.05 772.11 L618.8 772.95 L619.55 773.78 L620.31 774.62 L621.06 775.45 L621.82 776.28 L622.58 777.11 L623.34 777.94 L624.1 778.77 L624.87 779.59 L625.63 780.42 L626.4 781.24 L627.17 782.06 L627.94 782.88 L628.71 783.7 L629.48 784.52 L630.06 785.23 L630.63 785.94 L631.21 786.64 L631.79 787.34 L632.37 788.04 L632.96 788.74 L633.54 789.44 L634.13 790.13 L634.72 790.82 L635.31 791.51 L635.9 792.2 L636.5 792.89 L637.09 793.57 L637.69 794.26 L638.29 794.94 L638.89 795.61 L639.5 796.29 L640.1 796.96 L640.71 797.64 L641.32 798.31 L641.93 798.98 L642.54 799.64 L643.16 800.31 L643.77 800.97 L644.39 801.63 L645.01 802.29 L645.63 802.95 L646.25 803.61 L646.87 804.26 L647.49 804.92 L648.12 805.57 L648.75 806.22 L649.38 806.86 L650.01 807.51 L650.64 808.16 L651.27 808.8 L651.91 809.44 L652.54 810.08 L653.18 810.72 L653.82 811.36 L654.46 811.99 L655.1 812.63 L655.74 813.26 L656.38 813.89 L657.03 814.52 L657.68 815.15 L658.32 815.78 L658.97 816.41 L659.62 817.03 L660.27 817.66 L660.92 818.28 L661.58 818.9 L662.23 819.52 L662.89 820.14 L663.54 820.76 L664.2 821.37 L664.86 821.99 L665.52 822.6 L666.18 823.22 L666.84 823.83 L667.5 824.44 L668.17 825.05 L668.83 825.66 L669.5 826.27 L670.16 826.87 L670.83 827.48 L671.5 828.08 L672.16 828.69 L672.83 829.29 L673.5 829.89 L674.18 830.5 L674.85 831.1 L675.52 831.7 L676.19 832.29 L676.87 832.89 L677.54 833.49 L678.22 834.09 L678.9 834.68 L679.57 835.28 L680.25 835.87 L680.93 836.47 L681.61 837.06 L682.29 837.65 L682.97 838.24 L683.65 838.84 L684.33 839.43 L685.01 840.02 L685.69 840.61 L686.38 841.2 L687.06 841.79 L687.74 842.37 L688.43 842.96 L689.11 843.55 L689.8 844.14 L690.48 844.72 L691.17 845.31 L691.85 845.89 L692.54 846.48 L693.23 847.06 L693.91 847.65 L694.6 848.23 L695.29 848.82 L695.97 849.4 L696.66 849.99 L697.35 850.57 L698.04 851.15 L698.73 851.74 L699.42 852.32 L700.11 852.9 L700.8 853.49 L701.48 854.07 L702.17 854.65 L702.86 855.23 L703.55 855.82 L704.24 856.4 L704.93 856.98 L705.62 857.57 L706.31 858.15 L707 858.73 L707.69 859.31 L708.38 859.9 L709.07 860.48 L709.76 861.06 L710.45 861.65 L711.14 862.23 L711.83 862.81 L712.51 863.4 L713.2 863.98 L713.89 864.57 L714.58 865.15 L715.27 865.74 L715.96 866.32 L716.64 866.91 L717.33 867.5 L718.02 868.08 L718.7 868.67 L719.39 869.26 L720.08 869.84 L720.76 870.43 L721.45 871.02 L722.13 871.61 L722.82 872.2 L723.5 872.79 L724.18 873.38 L724.87 873.97 L725.55 874.57 L726.23 875.16 L726.91 875.75 L727.6 876.35 L728.28 876.94 L728.96 877.54 L729.64 878.13 L730.31 878.73 L730.99 879.33 L731.67 879.93 L732.35 880.53 L733.02 881.13 L733.7 881.73 L734.37 882.33 L735.05 882.93 L735.72 883.53 L736.4 884.13 L737.07 884.74 L737.74 885.34 L738.41 885.95 L739.08 886.56 L739.75 887.16 L740.42 887.77 L741.09 888.38 L741.76 888.99 L742.43 889.6 L743.09 890.21 L743.76 890.82 L744.42 891.44 L745.09 892.05 L745.75 892.66 L746.41 893.28 L747.07 893.9 L747.73 894.51 L748.39 895.13 L749.05 895.75 L749.71 896.37 L750.37 896.99 L751.02 897.61 L751.68 898.23 L752.33 898.86 L752.99 899.48 L753.64 900.1 L754.29 900.73 L754.94 901.36 L755.59 901.98 L756.24 902.61 L756.89 903.24 L757.54 903.87 L758.18 904.5 L758.83 905.14 L759.47 905.77 L760.12 906.4 L760.76 907.04 L761.4 907.67 L762.04 908.31 L762.68 908.95 L763.32 909.59 L763.96 910.23 L764.59 910.87 L765.23 911.51 L765.86 912.15 L766.5 912.8 L767.13 913.44 L767.76 914.09 L768.39 914.73 L769.02 915.38 L769.64 916.03 L770.27 916.68 L770.89 917.33 L771.52 917.98 L772.14 918.64 L772.76 919.29 L773.38 919.94 L774 920.6 L774.62 921.26 L775.24 921.92 L775.85 922.58 L776.47 923.24 L777.08 923.9 L777.69 924.56 L778.3 925.22 L778.91 925.89 L779.52 926.55 L780.13 927.22 L780.73 927.89 L781.34 928.56 L781.94 929.23 L782.54 929.9 L783.14 930.57 L783.74 931.25 L784.34 931.92 L784.93 932.6 L785.53 933.28 L786.12 933.96 L786.71 934.63 L787.3 935.32 L787.89 936 L788.48 936.68 L789.07 937.37 L789.65 938.05 L790.24 938.74 L790.82 939.43 L791.4 940.12 L791.98 940.81 L792.55 941.5 L793.13 942.19 L793.71 942.89 L794.28 943.58 L794.85 944.28 L795.42 944.98 L795.99 945.68 L796.56 946.38 L797.12 947.08 L797.68 947.78 L798.25 948.48 L798.81 949.19 L799.37 949.9 L799.92 950.61 L800.48 951.32 L801.03 952.03 L801.59 952.74 L802.14 953.45 L802.69 954.17 L803.23 954.88 L803.78 955.6 L804.32 956.32 L804.87 957.04 L805.41 957.76 L805.95 958.48 L806.48 959.21 L807.02 959.93 L807.55 960.66 L808.09 961.39 L808.62 962.12 L809.15 962.85 L809.67 963.58 L810.2 964.32 L810.72 965.05 L811.24 965.79 L811.76 966.53 L812.28 967.27 L812.8 968.01 L813.31 968.75 L813.82 969.5 L814.34 970.24 L814.84 970.99 L815.35 971.74 L815.86 972.49 L816.36 973.24 L816.86 973.99 L817.36 974.74 L817.86 975.5 L818.35 976.26 L818.85 977.02 L819.34 977.78 L819.83 978.54 L820.32 979.3 L820.8 980.07 L821.29 980.83 L821.77 981.6 L822.25 982.37 L822.73 983.14 L823.2 983.91 L823.67 984.69 L824.15 985.46 L824.62 986.24 L825.08 987.02 L825.55 987.8 L826.01 988.58 L826.47 989.36 L826.93 990.15 L827.39 990.94 L827.85 991.72 L828.3 992.51 L828.75 993.3 L829.2 994.1 L829.64 994.89 L830.09 995.69 L830.53 996.49 L830.97 997.29 L831.41 998.09 L831.85 998.89 L832.28 999.69 L832.72 1000.5 L833.15 1001.3 L833.59 1002.1 L834.03 1002.9 L834.47 1003.7 L834.92 1004.5 L835.37 1005.29 L835.83 1006.08 L836.29 1006.87 L836.76 1007.65 L837.24 1008.42 L837.73 1009.19 L838.22 1009.95 L838.73 1010.71 L839.25 1011.46 L839.78 1012.2 L840.32 1012.93 L840.88 1013.65 L841.45 1014.36 L842.04 1015.06 L842.65 1015.75 L843.27 1016.43 L843.91 1017.1 L844.56 1017.75 L845.24 1018.39 L845.94 1019.02 L846.65 1019.62 L847.38 1020.15 L848.1 1020.56 L848.8 1020.77 L849.47 1020.76 L850.12 1020.52 L850.72 1020.11 L851.29 1019.55 L851.82 1018.87 L852.31 1018.11 L852.75 1017.3 L853.15 1016.48 L853.5 1015.63 L853.81 1014.78 L854.09 1013.91 L854.33 1013.03 L854.54 1012.14 L854.72 1011.24 L854.88 1010.33 L855.01 1009.42 L855.13 1008.5 L855.23 1007.58 L855.33 1006.66 L855.41 1005.73 L855.49 1004.81 L855.56 1003.89 L855.64 1002.97 L855.71 1002.05 L855.79 1001.13 L855.88 1000.22 L855.96 999.31 L856.05 998.4 L856.13 997.5 L856.22 996.59 L856.31 995.69 L856.4 994.79 L856.49 993.89 L856.59 993 L856.68 992.1 L856.77 991.2 L856.86 990.31 L856.95 989.42 L857.04 988.52 L857.13 987.63 L857.22 986.74 L857.31 985.85 L857.4 984.95 L857.48 984.06 L857.57 983.17 L857.65 982.27 L857.73 981.38 L857.8 980.49 L857.88 979.59 L857.95 978.69 L858.03 977.8 L858.1 976.9 L858.17 976 L858.24 975.11 L858.3 974.21 L858.37 973.31 L858.43 972.41 L858.49 971.51 L858.55 970.61 L858.61 969.71 L858.67 968.81 L858.72 967.91 L858.78 967.01 L858.83 966.11 L858.88 965.21 L858.93 964.31 L858.98 963.41 L859.03 962.51 L859.08 961.6 L859.12 960.7 L859.17 959.8 L859.21 958.89 L859.25 957.99 L859.29 957.09 L859.33 956.18 L859.37 955.28 L859.41 954.38 L859.45 953.47 L859.48 952.57 L859.52 951.66 L859.55 950.76 L859.59 949.85 L859.62 948.95 L859.65 948.04 L859.68 947.14 L859.71 946.24 L859.74 945.33 L859.77 944.43 L859.8 943.52 L859.83 942.62 L859.86 941.71 L859.88 940.81 L859.91 939.9 L859.93 939 L859.96 938.09 L859.98 937.19 L860 936.28 L860.03 935.38 L860.05 934.47 L860.07 933.57 L860.09 932.66 L860.12 931.76 L860.14 930.85 L860.16 929.95 L860.18 929.05 L860.2 928.14 L860.22 927.24 L860.24 926.33 L860.25 925.43 L860.27 924.53 L860.29 923.62 L860.31 922.72 L860.32 921.81 L860.34 920.91 L860.36 920.01 L860.37 919.1 L860.39 918.2 L860.4 917.29 L860.42 916.39 L860.43 915.49 L860.44 914.58 L860.46 913.68 L860.47 912.78 L860.48 911.87 L860.5 910.97 L860.51 910.07 L860.52 909.16 L860.53 908.26 L860.55 907.36 L860.56 906.45 L860.57 905.55 L860.58 904.65 L860.59 903.74 L860.6 902.84 L860.61 901.94 L860.62 901.04 L860.63 900.13 L860.64 899.23 L860.65 898.33 L860.66 897.42 L860.67 896.52 L860.67 895.62 L860.68 894.72 L860.69 893.81 L860.7 892.91 L860.71 892.01 L860.72 891.1 L860.72 890.2 L860.73 889.3 L860.74 888.4 L860.75 887.49 L860.75 886.59 L860.76 885.69 L860.77 884.79 L860.77 883.88 L860.78 882.98 L860.79 882.08 L860.79 881.17 L860.8 880.27 L860.81 879.37 L860.81 878.47 L860.82 877.56 L860.82 876.66 L860.83 875.76 L860.84 874.86 L860.84 873.95 L860.85 873.05 L860.86 872.15 L860.86 871.25 L860.87 870.34 L860.87 869.44 L860.88 868.54 L860.89 867.64 L860.89 866.73 L860.9 865.83 L860.91 864.93 L860.91 864.02 L860.92 863.12 L860.92 862.22 L860.93 861.32 L860.94 860.41 L860.94 859.51 L860.95 858.61 L860.96 857.71 L860.97 856.8 L860.97 855.9 L860.98 855 L860.99 854.09 L860.99 853.19 L861 852.29 L861.01 851.39 L861.02 850.48 L861.03 849.58 L861.03 848.68 L861.04 847.77 L861.05 846.87 L861.06 845.97 L861.07 845.07 L861.08 844.16 L861.09 843.26 L861.1 842.36 L861.11 841.45 L861.12 840.55 L861.13 839.65 L861.14 838.74 L861.15 837.84 L861.16 836.94 L861.17 836.03 L861.18 835.13 L861.19 834.23 L861.2 833.32 L861.22 832.42 L861.23 831.52 L861.24 830.61 L861.25 829.71 L861.27 828.8 L861.28 827.9 L861.3 827 L861.31 826.09 L861.32 825.19 L861.34 824.29 L861.36 823.38 L861.37 822.48 L861.39 821.57 L861.4 820.67 L861.42 819.76 L861.44 818.86 L861.46 817.96 L861.47 817.05 L861.49 816.15 L861.51 815.24 L861.53 814.34 L861.55 813.43 L861.57 812.53 L861.59 811.62 L861.61 810.72 L861.63 809.81 L861.65 808.91 L861.68 808.01 L861.7 807.1" fill="none" stroke="#ff0000" stroke-width="1.5" stroke-linecap="butt" stroke-linejoin="round" stroke-dasharray="9.6 9.8"/>
<path d="M495.3 641.4 L495.98 642.11 L496.66 642.82 L497.34 643.54 L498.02 644.25 L498.71 644.96 L499.39 645.68 L500.07 646.39 L500.75 647.1 L501.43 647.82 L502.11 648.53 L502.79 649.24 L503.47 649.96 L504.15 650.67 L504.83 651.39 L505.51 652.1 L506.18 652.82 L506.86 653.53 L507.54 654.24 L508.22 654.96 L508.9 655.67 L509.58 656.39 L510.26 657.1 L510.94 657.82 L511.62 658.53 L512.29 659.25 L512.97 659.97 L513.65 660.68 L514.33 661.4 L515.01 662.11 L515.68 662.83 L516.36 663.54 L517.04 664.26 L517.72 664.98 L518.39 665.69 L519.07 666.41 L519.75 667.12 L520.42 667.84 L521.1 668.56 L521.78 669.27 L522.46 669.99 L523.13 670.71 L523.81 671.42 L524.49 672.14 L525.16 672.86 L525.84 673.58 L526.51 674.29 L527.19 675.01 L527.87 675.73 L528.54 676.44 L529.22 677.16 L529.9 677.88 L530.57 678.6 L531.25 679.31 L531.92 680.03 L532.6 680.75 L533.27 681.47 L533.95 682.18 L534.63 682.9 L535.3 683.62 L535.98 684.34 L536.65 685.06 L537.33 685.77 L538 686.49 L538.68 687.21 L539.35 687.93 L540.03 688.65 L540.7 689.36 L541.38 690.08 L542.05 690.8 L542.73 691.52 L543.4 692.24 L544.08 692.96 L544.75 693.67 L545.43 694.39 L546.1 695.11 L546.78 695.83 L547.45 696.55 L548.13 697.27 L548.8 697.99 L549.48 698.7 L550.15 699.42 L550.83 700.14 L551.5 700.86 L552.18 701.58 L552.85 702.3 L553.53 703.02 L554.2 703.73 L554.88 704.45 L555.55 705.17 L556.23 705.89 L556.9 706.61 L557.57 707.33 L558.25 708.05 L558.92 708.76 L559.6 709.48 L560.27 710.2 L560.95 710.92 L561.62 711.64 L562.3 712.36 L562.97 713.08 L563.65 713.79 L564.32 714.51 L565 715.23 L565.67 715.95 L566.35 716.67 L567.02 717.39 L567.7 718.1 L568.37 718.82 L569.05 719.54 L569.72 720.26 L570.4 720.98 L571.07 721.7 L571.75 722.41 L572.42 723.13 L573.1 723.85 L573.77 724.57 L574.45 725.29 L575.12 726 L575.8 726.72 L576.47 727.44 L577.15 728.16 L577.82 728.88 L578.5 729.59 L579.18 730.31 L579.85 731.03 L580.53 731.75 L581.2 732.46 L581.88 733.18 L582.55 733.9 L583.23 734.62 L583.91 735.33 L584.58 736.05 L585.26 736.77 L585.94 737.48 L586.61 738.2 L587.29 738.92 L587.96 739.64 L588.64 740.35 L589.32 741.07 L589.99 741.79 L590.67 742.5 L591.35 743.22 L592.03 743.94 L592.7 744.65 L593.38 745.37 L594.06 746.08 L594.73 746.8 L595.41 747.52 L596.09 748.23 L596.77 748.95 L597.44 749.66 L598.12 750.38 L598.8 751.09 L599.48 751.81 L600.16 752.53 L600.83 753.24 L601.51 753.96 L602.19 754.67 L602.87 755.39 L603.55 756.1 L604.23 756.82 L604.91 757.53 L605.58 758.24 L606.26 758.96 L606.94 759.67 L607.62 760.39 L608.3 761.1 L608.98 761.82 L609.66 762.53 L610.34 763.24 L611.02 763.96 L611.7 764.67 L612.38 765.38 L613.06 766.1 L613.74 766.81 L614.42 767.52 L615.1 768.24 L615.78 768.95 L616.47 769.66 L617.15 770.37 L617.83 771.09 L618.51 771.8 L619.19 772.51 L619.87 773.22 L620.56 773.93 L621.24 774.64 L621.92 775.36 L622.6 776.07 L623.28 776.78 L623.97 777.49 L624.65 778.2 L625.33 778.91 L626.02 779.62 L626.7 780.33 L627.38 781.04 L628.07 781.75 L628.75 782.46 L629.44 783.17 L630.12 783.88 L630.74 784.54 L631.36 785.21 L631.97 785.87 L632.59 786.53 L633.21 787.2 L633.83 787.86 L634.44 788.52 L635.06 789.18 L635.68 789.85 L636.3 790.51 L636.92 791.17 L637.53 791.83 L638.15 792.49 L638.77 793.15 L639.39 793.81 L640.01 794.47 L640.63 795.13 L641.25 795.79 L641.87 796.45 L642.49 797.11 L643.11 797.77 L643.73 798.43 L644.35 799.09 L644.97 799.74 L645.59 800.4 L646.21 801.06 L646.83 801.71 L647.46 802.37 L648.08 803.02 L648.7 803.67 L649.32 804.33 L649.95 804.98 L650.57 805.63 L651.2 806.29 L651.82 806.94 L652.45 807.59 L653.07 808.24 L653.7 808.89 L654.33 809.54 L654.96 810.19 L655.58 810.83 L656.21 811.48 L656.84 812.13 L657.47 812.77 L658.1 813.42 L658.74 814.06 L659.37 814.7 L660 815.35 L660.63 815.99 L661.27 816.63 L661.9 817.27 L662.54 817.91 L663.18 818.55 L663.81 819.19 L664.45 819.82 L665.09 820.46 L665.73 821.09 L666.37 821.73 L667.01 822.36 L667.65 822.99 L668.3 823.63 L668.94 824.26 L669.58 824.89 L670.23 825.52 L670.88 826.14 L671.52 826.77 L672.17 827.4 L672.82 828.02 L673.47 828.64 L674.13 829.27 L674.78 829.89 L675.43 830.51 L676.09 831.13 L676.74 831.75 L677.4 832.36 L678.06 832.98 L678.72 833.59 L679.38 834.21 L680.04 834.82 L680.7 835.43 L681.36 836.04 L682.03 836.65 L682.69 837.26 L683.36 837.87 L684.03 838.47 L684.7 839.07 L685.37 839.68 L686.04 840.28 L686.72 840.88 L687.39 841.48 L688.07 842.08 L688.75 842.67 L689.43 843.27 L690.11 843.86 L690.79 844.45 L691.47 845.04 L692.15 845.63 L692.84 846.22 L693.53 846.81 L694.21 847.4 L694.9 847.98 L695.59 848.57 L696.28 849.15 L696.97 849.73 L697.67 850.31 L698.36 850.89 L699.05 851.47 L699.75 852.05 L700.44 852.63" fill="none" stroke="#ff0000" stroke-width="1.5" stroke-linecap="butt" stroke-linejoin="round" stroke-dasharray="9.6 9.8" stroke-dashoffset="1.94"/>
<path d="M700.44 852.63 L701.14 853.21 L701.84 853.79 L702.53 854.37 L703.23 854.94 L703.93 855.52 L704.63 856.09 L705.33 856.67 L706.03 857.24 L706.73 857.82 L707.43 858.39 L708.13 858.96 L708.83 859.54 L709.53 860.11 L710.23 860.68 L710.93 861.26 L711.63 861.83 L712.33 862.4 L713.04 862.98 L713.74 863.55 L714.44 864.12 L715.14 864.7 L715.84 865.27 L716.54 865.84 L717.24 866.42 L717.94 866.99 L718.64 867.57 L719.34 868.14 L720.04 868.72 L720.74 869.29 L721.44 869.87 L722.13 870.45 L722.83 871.03 L723.53 871.6 L724.22 872.18 L724.92 872.76 L725.61 873.34 L726.31 873.93 L727 874.51 L727.69 875.09 L728.38 875.68 L729.07 876.26 L729.76 876.85 L730.45 877.43 L731.14 878.02 L731.82 878.61 L732.51 879.2 L733.19 879.79 L733.87 880.38 L734.56 880.98 L735.24 881.57 L735.92 882.17 L736.6 882.76 L737.28 883.36 L737.95 883.96 L738.63 884.56 L739.3 885.16 L739.98 885.76 L740.65 886.36 L741.32 886.97 L741.99 887.57 L742.66 888.18 L743.33 888.78 L744 889.39 L744.67 890 L745.33 890.61 L746 891.22 L746.66 891.83 L747.32 892.44 L747.98 893.06 L748.65 893.67 L749.3 894.29 L749.96 894.91 L750.62 895.53 L751.27 896.15 L751.93 896.77 L752.58 897.39 L753.24 898.01 L753.89 898.63 L754.54 899.26 L755.19 899.89 L755.83 900.51 L756.48 901.14 L757.13 901.77 L757.77 902.4 L758.41 903.03 L759.05 903.67 L759.7 904.3 L760.33 904.93 L760.97 905.57 L761.61 906.21 L762.25 906.85 L762.88 907.49 L763.51 908.13 L764.15 908.77 L764.78 909.41 L765.41 910.06 L766.04 910.7 L766.66 911.35 L767.29 912 L767.91 912.65 L768.54 913.3 L769.16 913.95 L769.78 914.6 L770.4 915.25 L771.02 915.91 L771.64 916.56 L772.25 917.22 L772.87 917.88 L773.48 918.54 L774.09 919.2 L774.7 919.86 L775.31 920.53 L775.92 921.19 L776.53 921.86 L777.13 922.52 L777.74 923.19 L778.34 923.86 L778.94 924.53 L779.54 925.2 L780.14 925.88 L780.74 926.55 L781.33 927.23 L781.93 927.9 L782.52 928.58 L783.11 929.26 L783.7 929.94 L784.29 930.62 L784.88 931.31 L785.47 931.99 L786.05 932.68 L786.64 933.36 L787.22 934.05 L787.8 934.74 L788.38 935.43 L788.95 936.12 L789.53 936.82 L790.11 937.51 L790.68 938.21 L791.25 938.91 L791.82 939.6 L792.39 940.3 L792.96 941 L793.53 941.71 L794.09 942.41 L794.65 943.12 L795.21 943.82" fill="none" stroke="#ff0000" stroke-width="1.5" stroke-linecap="butt" stroke-linejoin="round" stroke-dasharray="9.6 9.8" stroke-dashoffset="7.56"/>
<path d="M795.21 943.82 L795.77 944.53 L796.33 945.24 L796.89 945.95 L797.45 946.66 L798 947.37 L798.55 948.09 L799.1 948.8 L799.65 949.52 L800.2 950.24 L800.75 950.96 L801.29 951.68 L801.84 952.4 L802.38 953.13 L802.92 953.85 L803.46 954.58 L804 955.31 L804.53 956.03 L805.07 956.76 L805.6 957.5 L806.13 958.23 L806.66 958.96 L807.19 959.7 L807.71 960.44 L808.24 961.18 L808.76 961.92 L809.28 962.66 L809.8 963.4 L810.32 964.15 L810.84 964.89 L811.35 965.64 L811.86 966.39 L812.37 967.14 L812.88 967.89 L813.39 968.64 L813.9 969.4 L814.4 970.15 L814.91 970.91 L815.41 971.67 L815.91 972.43 L816.41 973.19 L816.9 973.95 L817.4 974.72 L817.89 975.48 L818.38 976.25 L818.87 977.02 L819.36 977.79 L819.84 978.56 L820.33 979.34 L820.81 980.11 L821.29 980.89 L821.77 981.66 L822.25 982.44 L822.73 983.22 L823.2 984.01 L823.67 984.79 L824.14 985.57 L824.61 986.36 L825.08 987.15 L825.54 987.94 L826.01 988.73 L826.47 989.52 L826.93 990.32 L827.38 991.11 L827.84 991.91 L828.29 992.71 L828.75 993.51 L829.2 994.31 L829.65 995.11 L830.09 995.92 L830.54 996.72 L830.98 997.53 L831.42 998.34 L831.86 999.15 L832.3 999.96 L832.74 1000.77 L833.18 1001.58 L833.62 1002.39 L834.06 1003.2 L834.51 1004 L834.96 1004.8 L835.41 1005.59 L835.87 1006.38 L836.34 1007.16 L836.81 1007.93 L837.29 1008.7 L837.78 1009.45 L838.28 1010.2 L838.78 1010.94 L839.3 1011.66 L839.83 1012.38 L840.37 1013.08 L840.92 1013.77 L841.49 1014.44 L842.07 1015.11 L842.66 1015.75 L843.27 1016.38 L843.9 1016.99 L844.55 1017.58 L845.21 1018.16 L845.89 1018.71 L846.59 1019.24 L847.3 1019.71 L848 1020.08 L848.7 1020.29 L849.37 1020.33 L850.02 1020.19 L850.64 1019.9 L851.23 1019.47 L851.77 1018.94 L852.28 1018.32 L852.74 1017.63 L853.15 1016.89 L853.51 1016.12 L853.83 1015.31 L854.11 1014.46 L854.36 1013.59 L854.57 1012.69 L854.75 1011.76 L854.91 1010.82 L855.04 1009.86 L855.16 1008.89 L855.26 1007.91 L855.34 1006.92 L855.42 1005.93 L855.49 1004.95 L855.56 1003.97 L855.64 1002.99 L855.71 1002.03 L855.79 1001.07 L855.87 1000.13 L855.95 999.19 L856.03 998.26 L856.12 997.34 L856.2 996.42 L856.29 995.52 L856.38 994.61 L856.47 993.71 L856.57 992.82 L856.66 991.93 L856.75 991.05 L856.84 990.16 L856.93 989.28 L857.03 988.41 L857.12 987.53 L857.21 986.65 L857.3 985.78 L857.38 984.9 L857.47 984.03 L857.56 983.15 L857.64 982.27 L857.72 981.39 L857.8 980.51 L857.87 979.62 L857.95 978.74 L858.02 977.85 L858.09 976.97 L858.16 976.08 L858.23 975.19 L858.3 974.3 L858.37 973.41 L858.43 972.51 L858.49 971.62 L858.55 970.73 L858.61 969.83 L858.67 968.93 L858.72 968.04 L858.78 967.14 L858.83 966.24 L858.88 965.34 L858.94 964.44 L858.98 963.53 L859.03 962.63 L859.08 961.73 L859.13 960.82 L859.17 959.92 L859.21 959.02 L859.26 958.11 L859.3 957.2 L859.34 956.3 L859.38 955.39 L859.41 954.48 L859.45 953.57 L859.49 952.67 L859.52 951.76 L859.56 950.85 L859.59 949.94 L859.62 949.03 L859.65 948.12 L859.68 947.21 L859.71 946.3 L859.74 945.39 L859.77 944.48 L859.8 943.57 L859.83 942.66 L859.85 941.75 L859.88 940.84 L859.91 939.94 L859.93 939.03 L859.96 938.12 L859.98 937.21 L860 936.3 L860.03 935.39 L860.05 934.48 L860.07 933.57 L860.09 932.67 L860.11 931.76 L860.13 930.85 L860.15 929.94 L860.17 929.04 L860.19 928.13 L860.21 927.22 L860.23 926.32 L860.25 925.41 L860.27 924.51 L860.29 923.6 L860.3 922.69 L860.32 921.79 L860.34 920.88 L860.35 919.98 L860.37 919.07 L860.38 918.17 L860.4 917.26 L860.41 916.36 L860.43 915.46 L860.44 914.55 L860.45 913.65 L860.47 912.74 L860.48 911.84 L860.49 910.94 L860.51 910.03 L860.52 909.13 L860.53 908.23 L860.54 907.32 L860.55 906.42 L860.56 905.52 L860.57 904.61 L860.59 903.71 L860.6 902.81 L860.61 901.91 L860.62 901 L860.63 900.1 L860.64 899.2 L860.64 898.3 L860.65 897.4 L860.66 896.49 L860.67 895.59 L860.68 894.69 L860.69 893.79 L860.7 892.89 L860.7 891.99 L860.71 891.09 L860.72 890.18 L860.73 889.28 L860.74 888.38 L860.74 887.48 L860.75 886.58 L860.76 885.68 L860.76 884.78 L860.77 883.88 L860.78 882.98 L860.78 882.07 L860.79 881.17 L860.8 880.27 L860.8 879.37 L860.81 878.47 L860.82 877.57 L860.82 876.67 L860.83 875.77 L860.84 874.87 L860.84 873.97 L860.85 873.07 L860.86 872.17 L860.86 871.26 L860.87 870.36 L860.87 869.46 L860.88 868.56 L860.89 867.66 L860.89 866.76 L860.9 865.86 L860.91 864.96 L860.91 864.06 L860.92 863.16 L860.93 862.26 L860.93 861.36 L860.94 860.45 L860.95 859.55 L860.95 858.65 L860.96 857.75 L860.97 856.85 L860.97 855.95 L860.98 855.05 L860.99 854.15 L861 853.24 L861 852.34 L861.01 851.44 L861.02 850.54 L861.03 849.64 L861.04 848.74 L861.04 847.83 L861.05 846.93 L861.06 846.03 L861.07 845.13 L861.08 844.22 L861.09 843.32 L861.1 842.42 L861.11 841.52 L861.12 840.61 L861.13 839.71 L861.14 838.81 L861.15 837.9 L861.16 837 L861.17 836.1 L861.18 835.19 L861.2 834.29 L861.21 833.39 L861.22 832.48 L861.23 831.58 L861.24 830.67 L861.26 829.77 L861.27 828.87 L861.28 827.96 L861.3 827.06 L861.31 826.15 L861.33 825.25 L861.34 824.34 L861.36 823.43 L861.37 822.53 L861.39 821.62 L861.41 820.72 L861.42 819.81 L861.44 818.9 L861.46 818 L861.48 817.09 L861.49 816.18 L861.51 815.28 L861.53 814.37 L861.55 813.46 L861.57 812.55 L861.59 811.64 L861.61 810.74 L861.63 809.83 L861.66 808.92 L861.68 808.01 L861.7 807.1" fill="none" stroke="#ff0000" stroke-width="1.5" stroke-linecap="butt" stroke-linejoin="round" stroke-dasharray="9.6 9.8" stroke-dashoffset="5.79"/>
</g>
<rect x="60.5" y="602.6" width="374.1" height="464.7" fill="none" stroke="#000" stroke-width="1.45"/>
<rect x="495.3" y="602.6" width="373.7" height="464.7" fill="none" stroke="#000" stroke-width="1.45"/>
<line x1="88.65" y1="1067.3" x2="88.65" y2="1061" stroke="#000" stroke-width="1.15" />
<line x1="88.65" y1="602.6" x2="88.65" y2="608.9" stroke="#000" stroke-width="1.15" />
<line x1="105.12" y1="1067.3" x2="105.12" y2="1061" stroke="#000" stroke-width="1.15" />
<line x1="105.12" y1="602.6" x2="105.12" y2="608.9" stroke="#000" stroke-width="1.15" />
<line x1="116.81" y1="1067.3" x2="116.81" y2="1061" stroke="#000" stroke-width="1.15" />
<line x1="116.81" y1="602.6" x2="116.81" y2="608.9" stroke="#000" stroke-width="1.15" />
<line x1="125.87" y1="1067.3" x2="125.87" y2="1061" stroke="#000" stroke-width="1.15" />
<line x1="125.87" y1="602.6" x2="125.87" y2="608.9" stroke="#000" stroke-width="1.15" />
<line x1="133.28" y1="1067.3" x2="133.28" y2="1061" stroke="#000" stroke-width="1.15" />
<line x1="133.28" y1="602.6" x2="133.28" y2="608.9" stroke="#000" stroke-width="1.15" />
<line x1="139.54" y1="1067.3" x2="139.54" y2="1061" stroke="#000" stroke-width="1.15" />
<line x1="139.54" y1="602.6" x2="139.54" y2="608.9" stroke="#000" stroke-width="1.15" />
<line x1="144.96" y1="1067.3" x2="144.96" y2="1061" stroke="#000" stroke-width="1.15" />
<line x1="144.96" y1="602.6" x2="144.96" y2="608.9" stroke="#000" stroke-width="1.15" />
<line x1="149.75" y1="1067.3" x2="149.75" y2="1061" stroke="#000" stroke-width="1.15" />
<line x1="149.75" y1="602.6" x2="149.75" y2="608.9" stroke="#000" stroke-width="1.15" />
<line x1="154.03" y1="1067.3" x2="154.03" y2="1055" stroke="#000" stroke-width="1.15" />
<line x1="154.03" y1="602.6" x2="154.03" y2="614.9" stroke="#000" stroke-width="1.15" />
<line x1="182.18" y1="1067.3" x2="182.18" y2="1061" stroke="#000" stroke-width="1.15" />
<line x1="182.18" y1="602.6" x2="182.18" y2="608.9" stroke="#000" stroke-width="1.15" />
<line x1="198.65" y1="1067.3" x2="198.65" y2="1061" stroke="#000" stroke-width="1.15" />
<line x1="198.65" y1="602.6" x2="198.65" y2="608.9" stroke="#000" stroke-width="1.15" />
<line x1="210.33" y1="1067.3" x2="210.33" y2="1061" stroke="#000" stroke-width="1.15" />
<line x1="210.33" y1="602.6" x2="210.33" y2="608.9" stroke="#000" stroke-width="1.15" />
<line x1="219.4" y1="1067.3" x2="219.4" y2="1061" stroke="#000" stroke-width="1.15" />
<line x1="219.4" y1="602.6" x2="219.4" y2="608.9" stroke="#000" stroke-width="1.15" />
<line x1="226.8" y1="1067.3" x2="226.8" y2="1061" stroke="#000" stroke-width="1.15" />
<line x1="226.8" y1="602.6" x2="226.8" y2="608.9" stroke="#000" stroke-width="1.15" />
<line x1="233.06" y1="1067.3" x2="233.06" y2="1061" stroke="#000" stroke-width="1.15" />
<line x1="233.06" y1="602.6" x2="233.06" y2="608.9" stroke="#000" stroke-width="1.15" />
<line x1="238.49" y1="1067.3" x2="238.49" y2="1061" stroke="#000" stroke-width="1.15" />
<line x1="238.49" y1="602.6" x2="238.49" y2="608.9" stroke="#000" stroke-width="1.15" />
<line x1="243.27" y1="1067.3" x2="243.27" y2="1061" stroke="#000" stroke-width="1.15" />
<line x1="243.27" y1="602.6" x2="243.27" y2="608.9" stroke="#000" stroke-width="1.15" />
<line x1="247.55" y1="1067.3" x2="247.55" y2="1055" stroke="#000" stroke-width="1.15" />
<line x1="247.55" y1="602.6" x2="247.55" y2="614.9" stroke="#000" stroke-width="1.15" />
<line x1="275.7" y1="1067.3" x2="275.7" y2="1061" stroke="#000" stroke-width="1.15" />
<line x1="275.7" y1="602.6" x2="275.7" y2="608.9" stroke="#000" stroke-width="1.15" />
<line x1="292.17" y1="1067.3" x2="292.17" y2="1061" stroke="#000" stroke-width="1.15" />
<line x1="292.17" y1="602.6" x2="292.17" y2="608.9" stroke="#000" stroke-width="1.15" />
<line x1="303.86" y1="1067.3" x2="303.86" y2="1061" stroke="#000" stroke-width="1.15" />
<line x1="303.86" y1="602.6" x2="303.86" y2="608.9" stroke="#000" stroke-width="1.15" />
<line x1="312.92" y1="1067.3" x2="312.92" y2="1061" stroke="#000" stroke-width="1.15" />
<line x1="312.92" y1="602.6" x2="312.92" y2="608.9" stroke="#000" stroke-width="1.15" />
<line x1="320.33" y1="1067.3" x2="320.33" y2="1061" stroke="#000" stroke-width="1.15" />
<line x1="320.33" y1="602.6" x2="320.33" y2="608.9" stroke="#000" stroke-width="1.15" />
<line x1="326.59" y1="1067.3" x2="326.59" y2="1061" stroke="#000" stroke-width="1.15" />
<line x1="326.59" y1="602.6" x2="326.59" y2="608.9" stroke="#000" stroke-width="1.15" />
<line x1="332.01" y1="1067.3" x2="332.01" y2="1061" stroke="#000" stroke-width="1.15" />
<line x1="332.01" y1="602.6" x2="332.01" y2="608.9" stroke="#000" stroke-width="1.15" />
<line x1="336.8" y1="1067.3" x2="336.8" y2="1061" stroke="#000" stroke-width="1.15" />
<line x1="336.8" y1="602.6" x2="336.8" y2="608.9" stroke="#000" stroke-width="1.15" />
<line x1="341.08" y1="1067.3" x2="341.08" y2="1055" stroke="#000" stroke-width="1.15" />
<line x1="341.08" y1="602.6" x2="341.08" y2="614.9" stroke="#000" stroke-width="1.15" />
<line x1="369.23" y1="1067.3" x2="369.23" y2="1061" stroke="#000" stroke-width="1.15" />
<line x1="369.23" y1="602.6" x2="369.23" y2="608.9" stroke="#000" stroke-width="1.15" />
<line x1="385.7" y1="1067.3" x2="385.7" y2="1061" stroke="#000" stroke-width="1.15" />
<line x1="385.7" y1="602.6" x2="385.7" y2="608.9" stroke="#000" stroke-width="1.15" />
<line x1="397.38" y1="1067.3" x2="397.38" y2="1061" stroke="#000" stroke-width="1.15" />
<line x1="397.38" y1="602.6" x2="397.38" y2="608.9" stroke="#000" stroke-width="1.15" />
<line x1="406.45" y1="1067.3" x2="406.45" y2="1061" stroke="#000" stroke-width="1.15" />
<line x1="406.45" y1="602.6" x2="406.45" y2="608.9" stroke="#000" stroke-width="1.15" />
<line x1="413.85" y1="1067.3" x2="413.85" y2="1061" stroke="#000" stroke-width="1.15" />
<line x1="413.85" y1="602.6" x2="413.85" y2="608.9" stroke="#000" stroke-width="1.15" />
<line x1="420.11" y1="1067.3" x2="420.11" y2="1061" stroke="#000" stroke-width="1.15" />
<line x1="420.11" y1="602.6" x2="420.11" y2="608.9" stroke="#000" stroke-width="1.15" />
<line x1="425.54" y1="1067.3" x2="425.54" y2="1061" stroke="#000" stroke-width="1.15" />
<line x1="425.54" y1="602.6" x2="425.54" y2="608.9" stroke="#000" stroke-width="1.15" />
<line x1="430.32" y1="1067.3" x2="430.32" y2="1061" stroke="#000" stroke-width="1.15" />
<line x1="430.32" y1="602.6" x2="430.32" y2="608.9" stroke="#000" stroke-width="1.15" />
<line x1="517.8" y1="1067.3" x2="517.8" y2="1061" stroke="#000" stroke-width="1.15" />
<line x1="517.8" y1="602.6" x2="517.8" y2="608.9" stroke="#000" stroke-width="1.15" />
<line x1="530.96" y1="1067.3" x2="530.96" y2="1061" stroke="#000" stroke-width="1.15" />
<line x1="530.96" y1="602.6" x2="530.96" y2="608.9" stroke="#000" stroke-width="1.15" />
<line x1="540.3" y1="1067.3" x2="540.3" y2="1061" stroke="#000" stroke-width="1.15" />
<line x1="540.3" y1="602.6" x2="540.3" y2="608.9" stroke="#000" stroke-width="1.15" />
<line x1="547.54" y1="1067.3" x2="547.54" y2="1061" stroke="#000" stroke-width="1.15" />
<line x1="547.54" y1="602.6" x2="547.54" y2="608.9" stroke="#000" stroke-width="1.15" />
<line x1="553.46" y1="1067.3" x2="553.46" y2="1061" stroke="#000" stroke-width="1.15" />
<line x1="553.46" y1="602.6" x2="553.46" y2="608.9" stroke="#000" stroke-width="1.15" />
<line x1="558.46" y1="1067.3" x2="558.46" y2="1061" stroke="#000" stroke-width="1.15" />
<line x1="558.46" y1="602.6" x2="558.46" y2="608.9" stroke="#000" stroke-width="1.15" />
<line x1="562.8" y1="1067.3" x2="562.8" y2="1061" stroke="#000" stroke-width="1.15" />
<line x1="562.8" y1="602.6" x2="562.8" y2="608.9" stroke="#000" stroke-width="1.15" />
<line x1="566.62" y1="1067.3" x2="566.62" y2="1061" stroke="#000" stroke-width="1.15" />
<line x1="566.62" y1="602.6" x2="566.62" y2="608.9" stroke="#000" stroke-width="1.15" />
<line x1="570.04" y1="1067.3" x2="570.04" y2="1055" stroke="#000" stroke-width="1.15" />
<line x1="570.04" y1="602.6" x2="570.04" y2="614.9" stroke="#000" stroke-width="1.15" />
<line x1="592.54" y1="1067.3" x2="592.54" y2="1061" stroke="#000" stroke-width="1.15" />
<line x1="592.54" y1="602.6" x2="592.54" y2="608.9" stroke="#000" stroke-width="1.15" />
<line x1="605.7" y1="1067.3" x2="605.7" y2="1061" stroke="#000" stroke-width="1.15" />
<line x1="605.7" y1="602.6" x2="605.7" y2="608.9" stroke="#000" stroke-width="1.15" />
<line x1="615.04" y1="1067.3" x2="615.04" y2="1061" stroke="#000" stroke-width="1.15" />
<line x1="615.04" y1="602.6" x2="615.04" y2="608.9" stroke="#000" stroke-width="1.15" />
<line x1="622.28" y1="1067.3" x2="622.28" y2="1061" stroke="#000" stroke-width="1.15" />
<line x1="622.28" y1="602.6" x2="622.28" y2="608.9" stroke="#000" stroke-width="1.15" />
<line x1="628.2" y1="1067.3" x2="628.2" y2="1061" stroke="#000" stroke-width="1.15" />
<line x1="628.2" y1="602.6" x2="628.2" y2="608.9" stroke="#000" stroke-width="1.15" />
<line x1="633.2" y1="1067.3" x2="633.2" y2="1061" stroke="#000" stroke-width="1.15" />
<line x1="633.2" y1="602.6" x2="633.2" y2="608.9" stroke="#000" stroke-width="1.15" />
<line x1="637.54" y1="1067.3" x2="637.54" y2="1061" stroke="#000" stroke-width="1.15" />
<line x1="637.54" y1="602.6" x2="637.54" y2="608.9" stroke="#000" stroke-width="1.15" />
<line x1="641.36" y1="1067.3" x2="641.36" y2="1061" stroke="#000" stroke-width="1.15" />
<line x1="641.36" y1="602.6" x2="641.36" y2="608.9" stroke="#000" stroke-width="1.15" />
<line x1="644.78" y1="1067.3" x2="644.78" y2="1055" stroke="#000" stroke-width="1.15" />
<line x1="644.78" y1="602.6" x2="644.78" y2="614.9" stroke="#000" stroke-width="1.15" />
<line x1="667.28" y1="1067.3" x2="667.28" y2="1061" stroke="#000" stroke-width="1.15" />
<line x1="667.28" y1="602.6" x2="667.28" y2="608.9" stroke="#000" stroke-width="1.15" />
<line x1="680.44" y1="1067.3" x2="680.44" y2="1061" stroke="#000" stroke-width="1.15" />
<line x1="680.44" y1="602.6" x2="680.44" y2="608.9" stroke="#000" stroke-width="1.15" />
<line x1="689.78" y1="1067.3" x2="689.78" y2="1061" stroke="#000" stroke-width="1.15" />
<line x1="689.78" y1="602.6" x2="689.78" y2="608.9" stroke="#000" stroke-width="1.15" />
<line x1="697.02" y1="1067.3" x2="697.02" y2="1061" stroke="#000" stroke-width="1.15" />
<line x1="697.02" y1="602.6" x2="697.02" y2="608.9" stroke="#000" stroke-width="1.15" />
<line x1="702.94" y1="1067.3" x2="702.94" y2="1061" stroke="#000" stroke-width="1.15" />
<line x1="702.94" y1="602.6" x2="702.94" y2="608.9" stroke="#000" stroke-width="1.15" />
<line x1="707.94" y1="1067.3" x2="707.94" y2="1061" stroke="#000" stroke-width="1.15" />
<line x1="707.94" y1="602.6" x2="707.94" y2="608.9" stroke="#000" stroke-width="1.15" />
<line x1="712.28" y1="1067.3" x2="712.28" y2="1061" stroke="#000" stroke-width="1.15" />
<line x1="712.28" y1="602.6" x2="712.28" y2="608.9" stroke="#000" stroke-width="1.15" />
<line x1="716.1" y1="1067.3" x2="716.1" y2="1061" stroke="#000" stroke-width="1.15" />
<line x1="716.1" y1="602.6" x2="716.1" y2="608.9" stroke="#000" stroke-width="1.15" />
<line x1="719.52" y1="1067.3" x2="719.52" y2="1055" stroke="#000" stroke-width="1.15" />
<line x1="719.52" y1="602.6" x2="719.52" y2="614.9" stroke="#000" stroke-width="1.15" />
<line x1="742.02" y1="1067.3" x2="742.02" y2="1061" stroke="#000" stroke-width="1.15" />
<line x1="742.02" y1="602.6" x2="742.02" y2="608.9" stroke="#000" stroke-width="1.15" />
<line x1="755.18" y1="1067.3" x2="755.18" y2="1061" stroke="#000" stroke-width="1.15" />
<line x1="755.18" y1="602.6" x2="755.18" y2="608.9" stroke="#000" stroke-width="1.15" />
<line x1="764.52" y1="1067.3" x2="764.52" y2="1061" stroke="#000" stroke-width="1.15" />
<line x1="764.52" y1="602.6" x2="764.52" y2="608.9" stroke="#000" stroke-width="1.15" />
<line x1="771.76" y1="1067.3" x2="771.76" y2="1061" stroke="#000" stroke-width="1.15" />
<line x1="771.76" y1="602.6" x2="771.76" y2="608.9" stroke="#000" stroke-width="1.15" />
<line x1="777.68" y1="1067.3" x2="777.68" y2="1061" stroke="#000" stroke-width="1.15" />
<line x1="777.68" y1="602.6" x2="777.68" y2="608.9" stroke="#000" stroke-width="1.15" />
<line x1="782.68" y1="1067.3" x2="782.68" y2="1061" stroke="#000" stroke-width="1.15" />
<line x1="782.68" y1="602.6" x2="782.68" y2="608.9" stroke="#000" stroke-width="1.15" />
<line x1="787.02" y1="1067.3" x2="787.02" y2="1061" stroke="#000" stroke-width="1.15" />
<line x1="787.02" y1="602.6" x2="787.02" y2="608.9" stroke="#000" stroke-width="1.15" />
<line x1="790.84" y1="1067.3" x2="790.84" y2="1061" stroke="#000" stroke-width="1.15" />
<line x1="790.84" y1="602.6" x2="790.84" y2="608.9" stroke="#000" stroke-width="1.15" />
<line x1="794.26" y1="1067.3" x2="794.26" y2="1055" stroke="#000" stroke-width="1.15" />
<line x1="794.26" y1="602.6" x2="794.26" y2="614.9" stroke="#000" stroke-width="1.15" />
<line x1="816.76" y1="1067.3" x2="816.76" y2="1061" stroke="#000" stroke-width="1.15" />
<line x1="816.76" y1="602.6" x2="816.76" y2="608.9" stroke="#000" stroke-width="1.15" />
<line x1="829.92" y1="1067.3" x2="829.92" y2="1061" stroke="#000" stroke-width="1.15" />
<line x1="829.92" y1="602.6" x2="829.92" y2="608.9" stroke="#000" stroke-width="1.15" />
<line x1="839.26" y1="1067.3" x2="839.26" y2="1061" stroke="#000" stroke-width="1.15" />
<line x1="839.26" y1="602.6" x2="839.26" y2="608.9" stroke="#000" stroke-width="1.15" />
<line x1="846.5" y1="1067.3" x2="846.5" y2="1061" stroke="#000" stroke-width="1.15" />
<line x1="846.5" y1="602.6" x2="846.5" y2="608.9" stroke="#000" stroke-width="1.15" />
<line x1="852.42" y1="1067.3" x2="852.42" y2="1061" stroke="#000" stroke-width="1.15" />
<line x1="852.42" y1="602.6" x2="852.42" y2="608.9" stroke="#000" stroke-width="1.15" />
<line x1="857.42" y1="1067.3" x2="857.42" y2="1061" stroke="#000" stroke-width="1.15" />
<line x1="857.42" y1="602.6" x2="857.42" y2="608.9" stroke="#000" stroke-width="1.15" />
<line x1="861.76" y1="1067.3" x2="861.76" y2="1061" stroke="#000" stroke-width="1.15" />
<line x1="861.76" y1="602.6" x2="861.76" y2="608.9" stroke="#000" stroke-width="1.15" />
<line x1="865.58" y1="1067.3" x2="865.58" y2="1061" stroke="#000" stroke-width="1.15" />
<line x1="865.58" y1="602.6" x2="865.58" y2="608.9" stroke="#000" stroke-width="1.15" />
<line x1="60.5" y1="1044.07" x2="66.8" y2="1044.07" stroke="#000" stroke-width="1.15" />
<line x1="434.6" y1="1044.07" x2="428.3" y2="1044.07" stroke="#000" stroke-width="1.15" />
<line x1="60.5" y1="1020.83" x2="66.8" y2="1020.83" stroke="#000" stroke-width="1.15" />
<line x1="434.6" y1="1020.83" x2="428.3" y2="1020.83" stroke="#000" stroke-width="1.15" />
<line x1="60.5" y1="997.6" x2="66.8" y2="997.6" stroke="#000" stroke-width="1.15" />
<line x1="434.6" y1="997.6" x2="428.3" y2="997.6" stroke="#000" stroke-width="1.15" />
<line x1="60.5" y1="974.36" x2="72.8" y2="974.36" stroke="#000" stroke-width="1.15" />
<line x1="434.6" y1="974.36" x2="422.3" y2="974.36" stroke="#000" stroke-width="1.15" />
<line x1="60.5" y1="951.12" x2="66.8" y2="951.12" stroke="#000" stroke-width="1.15" />
<line x1="434.6" y1="951.12" x2="428.3" y2="951.12" stroke="#000" stroke-width="1.15" />
<line x1="60.5" y1="927.89" x2="66.8" y2="927.89" stroke="#000" stroke-width="1.15" />
<line x1="434.6" y1="927.89" x2="428.3" y2="927.89" stroke="#000" stroke-width="1.15" />
<line x1="60.5" y1="904.65" x2="66.8" y2="904.65" stroke="#000" stroke-width="1.15" />
<line x1="434.6" y1="904.65" x2="428.3" y2="904.65" stroke="#000" stroke-width="1.15" />
<line x1="60.5" y1="881.42" x2="72.8" y2="881.42" stroke="#000" stroke-width="1.15" />
<line x1="434.6" y1="881.42" x2="422.3" y2="881.42" stroke="#000" stroke-width="1.15" />
<line x1="60.5" y1="858.18" x2="66.8" y2="858.18" stroke="#000" stroke-width="1.15" />
<line x1="434.6" y1="858.18" x2="428.3" y2="858.18" stroke="#000" stroke-width="1.15" />
<line x1="60.5" y1="834.95" x2="66.8" y2="834.95" stroke="#000" stroke-width="1.15" />
<line x1="434.6" y1="834.95" x2="428.3" y2="834.95" stroke="#000" stroke-width="1.15" />
<line x1="60.5" y1="811.72" x2="66.8" y2="811.72" stroke="#000" stroke-width="1.15" />
<line x1="434.6" y1="811.72" x2="428.3" y2="811.72" stroke="#000" stroke-width="1.15" />
<line x1="60.5" y1="788.48" x2="72.8" y2="788.48" stroke="#000" stroke-width="1.15" />
<line x1="434.6" y1="788.48" x2="422.3" y2="788.48" stroke="#000" stroke-width="1.15" />
<line x1="60.5" y1="765.25" x2="66.8" y2="765.25" stroke="#000" stroke-width="1.15" />
<line x1="434.6" y1="765.25" x2="428.3" y2="765.25" stroke="#000" stroke-width="1.15" />
<line x1="60.5" y1="742.01" x2="66.8" y2="742.01" stroke="#000" stroke-width="1.15" />
<line x1="434.6" y1="742.01" x2="428.3" y2="742.01" stroke="#000" stroke-width="1.15" />
<line x1="60.5" y1="718.78" x2="66.8" y2="718.78" stroke="#000" stroke-width="1.15" />
<line x1="434.6" y1="718.78" x2="428.3" y2="718.78" stroke="#000" stroke-width="1.15" />
<line x1="60.5" y1="695.54" x2="72.8" y2="695.54" stroke="#000" stroke-width="1.15" />
<line x1="434.6" y1="695.54" x2="422.3" y2="695.54" stroke="#000" stroke-width="1.15" />
<line x1="60.5" y1="672.31" x2="66.8" y2="672.31" stroke="#000" stroke-width="1.15" />
<line x1="434.6" y1="672.31" x2="428.3" y2="672.31" stroke="#000" stroke-width="1.15" />
<line x1="60.5" y1="649.07" x2="66.8" y2="649.07" stroke="#000" stroke-width="1.15" />
<line x1="434.6" y1="649.07" x2="428.3" y2="649.07" stroke="#000" stroke-width="1.15" />
<line x1="60.5" y1="625.84" x2="66.8" y2="625.84" stroke="#000" stroke-width="1.15" />
<line x1="434.6" y1="625.84" x2="428.3" y2="625.84" stroke="#000" stroke-width="1.15" />
<line x1="495.3" y1="1044.06" x2="501.6" y2="1044.06" stroke="#000" stroke-width="1.15" />
<line x1="869" y1="1044.06" x2="862.7" y2="1044.06" stroke="#000" stroke-width="1.15" />
<line x1="495.3" y1="1020.83" x2="501.6" y2="1020.83" stroke="#000" stroke-width="1.15" />
<line x1="869" y1="1020.83" x2="862.7" y2="1020.83" stroke="#000" stroke-width="1.15" />
<line x1="495.3" y1="997.59" x2="507.6" y2="997.59" stroke="#000" stroke-width="1.15" />
<line x1="869" y1="997.59" x2="856.7" y2="997.59" stroke="#000" stroke-width="1.15" />
<line x1="495.3" y1="974.36" x2="501.6" y2="974.36" stroke="#000" stroke-width="1.15" />
<line x1="869" y1="974.36" x2="862.7" y2="974.36" stroke="#000" stroke-width="1.15" />
<line x1="495.3" y1="951.12" x2="501.6" y2="951.12" stroke="#000" stroke-width="1.15" />
<line x1="869" y1="951.12" x2="862.7" y2="951.12" stroke="#000" stroke-width="1.15" />
<line x1="495.3" y1="927.89" x2="501.6" y2="927.89" stroke="#000" stroke-width="1.15" />
<line x1="869" y1="927.89" x2="862.7" y2="927.89" stroke="#000" stroke-width="1.15" />
<line x1="495.3" y1="904.66" x2="501.6" y2="904.66" stroke="#000" stroke-width="1.15" />
<line x1="869" y1="904.66" x2="862.7" y2="904.66" stroke="#000" stroke-width="1.15" />
<line x1="495.3" y1="881.42" x2="507.6" y2="881.42" stroke="#000" stroke-width="1.15" />
<line x1="869" y1="881.42" x2="856.7" y2="881.42" stroke="#000" stroke-width="1.15" />
<line x1="495.3" y1="858.19" x2="501.6" y2="858.19" stroke="#000" stroke-width="1.15" />
<line x1="869" y1="858.19" x2="862.7" y2="858.19" stroke="#000" stroke-width="1.15" />
<line x1="495.3" y1="834.95" x2="501.6" y2="834.95" stroke="#000" stroke-width="1.15" />
<line x1="869" y1="834.95" x2="862.7" y2="834.95" stroke="#000" stroke-width="1.15" />
<line x1="495.3" y1="811.72" x2="501.6" y2="811.72" stroke="#000" stroke-width="1.15" />
<line x1="869" y1="811.72" x2="862.7" y2="811.72" stroke="#000" stroke-width="1.15" />
<line x1="495.3" y1="788.48" x2="501.6" y2="788.48" stroke="#000" stroke-width="1.15" />
<line x1="869" y1="788.48" x2="862.7" y2="788.48" stroke="#000" stroke-width="1.15" />
<line x1="495.3" y1="765.25" x2="507.6" y2="765.25" stroke="#000" stroke-width="1.15" />
<line x1="869" y1="765.25" x2="856.7" y2="765.25" stroke="#000" stroke-width="1.15" />
<line x1="495.3" y1="742.01" x2="501.6" y2="742.01" stroke="#000" stroke-width="1.15" />
<line x1="869" y1="742.01" x2="862.7" y2="742.01" stroke="#000" stroke-width="1.15" />
<line x1="495.3" y1="718.77" x2="501.6" y2="718.77" stroke="#000" stroke-width="1.15" />
<line x1="869" y1="718.77" x2="862.7" y2="718.77" stroke="#000" stroke-width="1.15" />
<line x1="495.3" y1="695.54" x2="501.6" y2="695.54" stroke="#000" stroke-width="1.15" />
<line x1="869" y1="695.54" x2="862.7" y2="695.54" stroke="#000" stroke-width="1.15" />
<line x1="495.3" y1="672.3" x2="501.6" y2="672.3" stroke="#000" stroke-width="1.15" />
<line x1="869" y1="672.3" x2="862.7" y2="672.3" stroke="#000" stroke-width="1.15" />
<line x1="495.3" y1="649.07" x2="507.6" y2="649.07" stroke="#000" stroke-width="1.15" />
<line x1="869" y1="649.07" x2="856.7" y2="649.07" stroke="#000" stroke-width="1.15" />
<line x1="495.3" y1="625.83" x2="501.6" y2="625.83" stroke="#000" stroke-width="1.15" />
<line x1="869" y1="625.83" x2="862.7" y2="625.83" stroke="#000" stroke-width="1.15" />
<text x="50.5" y="1074.6" font-size="21.9" text-anchor="end" >0</text>
<text x="50.5" y="981.66" font-size="21.9" text-anchor="end" >0.02</text>
<text x="50.5" y="888.72" font-size="21.9" text-anchor="end" >0.04</text>
<text x="50.5" y="795.78" font-size="21.9" text-anchor="end" >0.06</text>
<text x="50.5" y="702.84" font-size="21.9" text-anchor="end" >0.08</text>
<text x="50.5" y="609.9" font-size="21.9" text-anchor="end" >0.1</text>
<text x="484.7" y="1004.9" font-size="21.9" text-anchor="end" >0.95</text>
<text x="484.7" y="888.72" font-size="21.9" text-anchor="end" >1</text>
<text x="484.7" y="772.54" font-size="21.9" text-anchor="end" >1.05</text>
<text x="484.7" y="656.37" font-size="21.9" text-anchor="end" >1.1</text>
<text x="43.1" y="1102.5" font-size="21.9" text-anchor="start" >10</text>
<text x="69.7" y="1088.9" font-size="16.0" text-anchor="start" >-4</text>
<text x="136.62" y="1102.5" font-size="21.9" text-anchor="start" >10</text>
<text x="163.22" y="1088.9" font-size="16.0" text-anchor="start" >-3</text>
<text x="230.15" y="1102.5" font-size="21.9" text-anchor="start" >10</text>
<text x="256.75" y="1088.9" font-size="16.0" text-anchor="start" >-2</text>
<text x="323.68" y="1102.5" font-size="21.9" text-anchor="start" >10</text>
<text x="350.28" y="1088.9" font-size="16.0" text-anchor="start" >-1</text>
<text x="429.1" y="1102.5" font-size="21.9" text-anchor="start" >1</text>
<text x="477.9" y="1102.5" font-size="21.9" text-anchor="start" >10</text>
<text x="504.5" y="1088.9" font-size="16.0" text-anchor="start" >-5</text>
<text x="552.64" y="1102.5" font-size="21.9" text-anchor="start" >10</text>
<text x="579.24" y="1088.9" font-size="16.0" text-anchor="start" >-4</text>
<text x="627.38" y="1102.5" font-size="21.9" text-anchor="start" >10</text>
<text x="653.98" y="1088.9" font-size="16.0" text-anchor="start" >-3</text>
<text x="702.12" y="1102.5" font-size="21.9" text-anchor="start" >10</text>
<text x="728.72" y="1088.9" font-size="16.0" text-anchor="start" >-2</text>
<text x="776.86" y="1102.5" font-size="21.9" text-anchor="start" >10</text>
<text x="803.46" y="1088.9" font-size="16.0" text-anchor="start" >-1</text>
<text x="863.5" y="1102.5" font-size="21.9" text-anchor="start" >1</text>
<text x="292.4" y="1119.6" font-size="30.5" text-anchor="middle" >x</text>
<text x="682.3" y="1119.6" font-size="30.5" text-anchor="middle" >x</text>
<text x="255.5" y="677.8" font-size="31.2" text-anchor="start" >xP</text>
<text x="285" y="686.6" font-size="22.2" text-anchor="start" >qg</text>
<text x="307.3" y="677.8" font-size="31.2" text-anchor="start" >(x)</text>
<line x1="240" y1="738.4" x2="285.1" y2="738.4" stroke="#ff0000" stroke-width="1.5" stroke-dasharray="9.1 8.7"/>
<line x1="240" y1="745.9" x2="285.1" y2="745.9" stroke="#ff0000" stroke-width="1.5" stroke-dasharray="9.1 8.7"/>
<line x1="240" y1="784" x2="285.1" y2="784" stroke="#0000ff" stroke-width="1.6" />
<line x1="240" y1="825.65" x2="285.1" y2="825.65" stroke="#000" stroke-width="1.25" stroke-dasharray="9.1 8.8"/>
<line x1="240" y1="825.65" x2="285.1" y2="825.65" stroke="#000" stroke-width="2.2" stroke-dasharray="0.01 17.89" stroke-dashoffset="4.7" stroke-linecap="round"/>
<line x1="242.9" y1="862.95" x2="285.2" y2="862.95" stroke="#000" stroke-width="2.3" stroke-dasharray="0.01 9.79" stroke-linecap="round"/>
<text x="300" y="750.2" font-size="24.3" text-anchor="start" >N</text>
<text x="318" y="738" font-size="16.8" text-anchor="start" >3</text>
<text x="325.4" y="750.2" font-size="24.3" text-anchor="start" >LO</text>
<text x="357.9" y="759.1" font-size="16.8" text-anchor="start" >A,B</text>
<text x="300" y="792.1" font-size="24.3" text-anchor="start" >N</text>
<text x="318" y="779.9" font-size="16.8" text-anchor="start" >2</text>
<text x="325.4" y="792.1" font-size="24.3" text-anchor="start" >LO</text>
<text x="300" y="833.8" font-size="24.3" text-anchor="start" >NLO</text>
<text x="300" y="870.7" font-size="24.3" text-anchor="start" >LO</text>
<text x="647" y="677.8" font-size="31.2" text-anchor="start" >x</text>
<text x="664.6" y="677.8" font-size="31.2" text-anchor="start" >[P</text>
<text x="690.2" y="686.6" font-size="22.2" text-anchor="start" >qg</text>
<circle cx="726.5" cy="666.8" r="9.6" fill="none" stroke="#000" stroke-width="1.4"/>
<line x1="719.71" y1="660.01" x2="733.29" y2="673.59" stroke="#000" stroke-width="1.4" />
<line x1="719.71" y1="673.59" x2="733.29" y2="660.01" stroke="#000" stroke-width="1.4" />
<text x="743.6" y="677.8" font-size="31.2" text-anchor="start" >g]</text>
<text x="769.2" y="677.8" font-size="31.2" text-anchor="start" >(x)</text>
<line x1="532.55" y1="924.5" x2="577.9" y2="924.5" stroke="#ff0000" stroke-width="1.5" stroke-dasharray="9.1 8.7"/>
<line x1="532.55" y1="932" x2="577.9" y2="932" stroke="#ff0000" stroke-width="1.5" stroke-dasharray="9.1 8.7"/>
<line x1="532.55" y1="969.95" x2="577.9" y2="969.95" stroke="#0000ff" stroke-width="1.6" />
<text x="592" y="936" font-size="23.7" text-anchor="start" >N</text>
<text x="609.6" y="924.2" font-size="16.4" text-anchor="start" >3</text>
<text x="616.8" y="936" font-size="23.7" text-anchor="start" >LO</text>
<text x="648" y="944.5" font-size="16.4" text-anchor="start" >A,B</text>
<text x="679" y="936" font-size="23.7" text-anchor="start" >/</text>
<text x="689.5" y="936" font-size="23.7" text-anchor="start" >NLO</text>
<text x="592" y="978" font-size="23.7" text-anchor="start" >N</text>
<text x="609.6" y="966.2" font-size="16.4" text-anchor="start" >2</text>
<text x="616.8" y="978" font-size="23.7" text-anchor="start" >LO</text>
<text x="651.8" y="978" font-size="23.7" text-anchor="start" >/</text>
<text x="662.5" y="978" font-size="23.7" text-anchor="start" >NLO</text>
<text x="533.3" y="1033.8" font-size="28.6" textLength="15.29" lengthAdjust="spacingAndGlyphs">&#945;</text>
<text x="548.6" y="1042.6" font-size="17.2" textLength="10.52" lengthAdjust="spacingAndGlyphs">S</text>
<line x1="565.4" y1="1024.35" x2="579.1" y2="1024.35" stroke="#000" stroke-width="1.6" />
<line x1="565.4" y1="1030.45" x2="579.1" y2="1030.45" stroke="#000" stroke-width="1.6" />
<text x="585.3" y="1033.8" font-size="24.4" textLength="40.26" lengthAdjust="spacingAndGlyphs">0.2,</text>
<text x="637.7" y="1033.8" font-size="24.4" textLength="12.69" lengthAdjust="spacingAndGlyphs">n</text>
<text x="649.7" y="1042.6" font-size="17.2" textLength="6.01" lengthAdjust="spacingAndGlyphs">f</text>
<line x1="662.4" y1="1024.35" x2="676.4" y2="1024.35" stroke="#000" stroke-width="1.6" />
<line x1="662.4" y1="1030.45" x2="676.4" y2="1030.45" stroke="#000" stroke-width="1.6" />
<text x="682.3" y="1033.8" font-size="24.4" textLength="13.42" lengthAdjust="spacingAndGlyphs">4</text>
</svg></body></html>
